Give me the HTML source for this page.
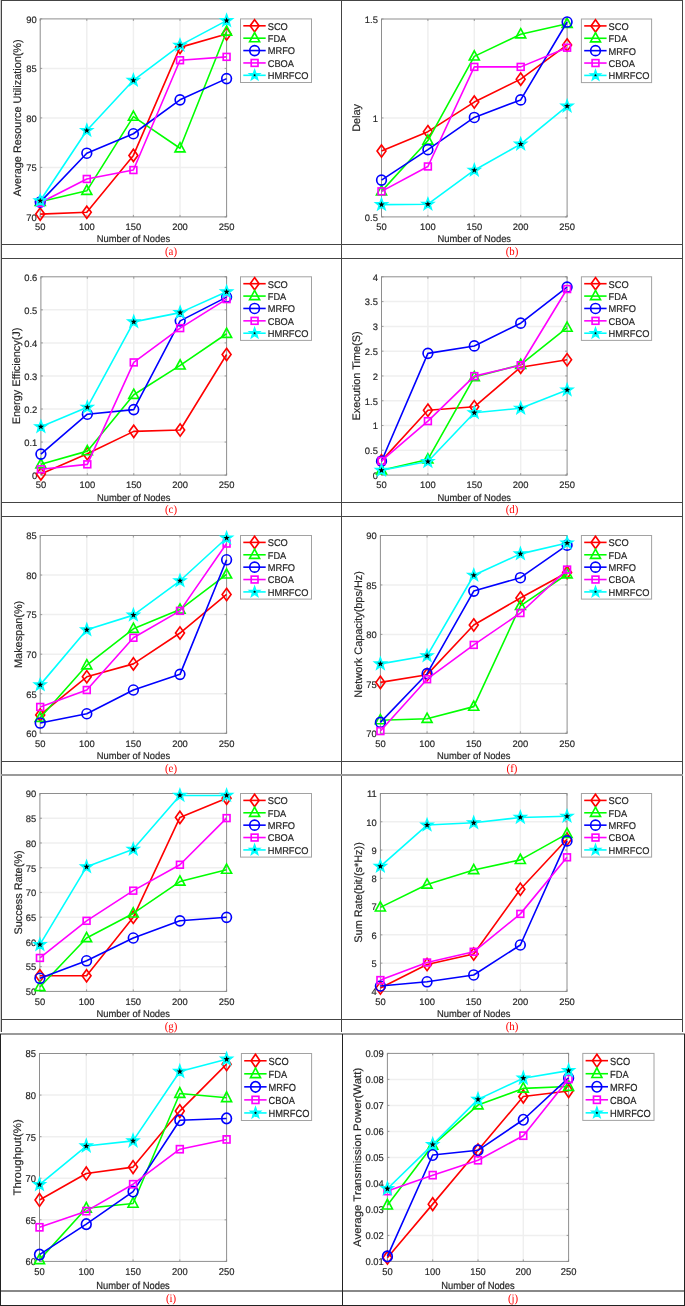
<!DOCTYPE html>
<html><head><meta charset="utf-8"><title>Figure</title>
<style>
html,body{margin:0;padding:0;background:#fff;}
body{width:685px;height:1306px;overflow:hidden;font-family:"Liberation Sans", sans-serif;}
svg{display:block;will-change:transform;}
svg text{font-family:"Liberation Sans", sans-serif;fill:#262626;stroke:#262626;stroke-width:0.18px;stroke-linejoin:round;text-rendering:geometricPrecision;}
</style></head><body>
<svg width="685" height="1306" viewBox="0 0 685 1306">
<rect x="0" y="0" width="1" height="1032" fill="#cfcfcf"/>
<rect x="1" y="0" width="682" height="1" fill="#444444"/>
<rect x="1" y="0" width="1" height="1032" fill="#444444"/>
<rect x="682" y="0" width="1" height="1032" fill="#444444"/>
<rect x="341" y="0" width="1" height="1032" fill="#444444"/>
<rect x="1" y="244" width="682" height="1" fill="#444444"/>
<rect x="1" y="258" width="682" height="1" fill="#444444"/>
<rect x="1" y="502" width="682" height="1" fill="#444444"/>
<rect x="1" y="516" width="682" height="1" fill="#444444"/>
<rect x="1" y="761" width="682" height="1" fill="#444444"/>
<rect x="1" y="1019" width="682" height="1" fill="#444444"/>
<rect x="1" y="774" width="682" height="2" fill="#9a9a9a"/>
<rect x="0" y="1033" width="685" height="2" fill="#9a9a9a"/>
<rect x="0" y="1290" width="685" height="2" fill="#888"/>
<rect x="0" y="1305" width="685" height="1" fill="#222"/>
<rect x="0" y="1034" width="1" height="272" fill="#222"/>
<rect x="684" y="1034" width="1" height="272" fill="#222"/>
<rect x="342" y="1034" width="1" height="272" fill="#222"/>
<g><line x1="86.8" y1="18.9" x2="86.8" y2="216.9" stroke="#efefef" stroke-width="1.5"/>
<line x1="133.4" y1="18.9" x2="133.4" y2="216.9" stroke="#efefef" stroke-width="1.5"/>
<line x1="180" y1="18.9" x2="180" y2="216.9" stroke="#efefef" stroke-width="1.5"/>
<line x1="40.2" y1="167.4" x2="226.6" y2="167.4" stroke="#efefef" stroke-width="1.5"/>
<line x1="40.2" y1="117.9" x2="226.6" y2="117.9" stroke="#efefef" stroke-width="1.5"/>
<line x1="40.2" y1="68.4" x2="226.6" y2="68.4" stroke="#efefef" stroke-width="1.5"/>
<rect x="40.2" y="18.9" width="186.4" height="198" fill="none" stroke="#8e8e8e" stroke-width="1"/>
<line x1="40.2" y1="216.9" x2="40.2" y2="214.9" stroke="#888" stroke-width="0.8"/>
<line x1="40.2" y1="18.9" x2="40.2" y2="20.9" stroke="#888" stroke-width="0.8"/>
<line x1="86.8" y1="216.9" x2="86.8" y2="214.9" stroke="#888" stroke-width="0.8"/>
<line x1="86.8" y1="18.9" x2="86.8" y2="20.9" stroke="#888" stroke-width="0.8"/>
<line x1="133.4" y1="216.9" x2="133.4" y2="214.9" stroke="#888" stroke-width="0.8"/>
<line x1="133.4" y1="18.9" x2="133.4" y2="20.9" stroke="#888" stroke-width="0.8"/>
<line x1="180" y1="216.9" x2="180" y2="214.9" stroke="#888" stroke-width="0.8"/>
<line x1="180" y1="18.9" x2="180" y2="20.9" stroke="#888" stroke-width="0.8"/>
<line x1="226.6" y1="216.9" x2="226.6" y2="214.9" stroke="#888" stroke-width="0.8"/>
<line x1="226.6" y1="18.9" x2="226.6" y2="20.9" stroke="#888" stroke-width="0.8"/>
<line x1="40.2" y1="216.9" x2="42.2" y2="216.9" stroke="#888" stroke-width="0.8"/>
<line x1="226.6" y1="216.9" x2="224.6" y2="216.9" stroke="#888" stroke-width="0.8"/>
<line x1="40.2" y1="167.4" x2="42.2" y2="167.4" stroke="#888" stroke-width="0.8"/>
<line x1="226.6" y1="167.4" x2="224.6" y2="167.4" stroke="#888" stroke-width="0.8"/>
<line x1="40.2" y1="117.9" x2="42.2" y2="117.9" stroke="#888" stroke-width="0.8"/>
<line x1="226.6" y1="117.9" x2="224.6" y2="117.9" stroke="#888" stroke-width="0.8"/>
<line x1="40.2" y1="68.4" x2="42.2" y2="68.4" stroke="#888" stroke-width="0.8"/>
<line x1="226.6" y1="68.4" x2="224.6" y2="68.4" stroke="#888" stroke-width="0.8"/>
<line x1="40.2" y1="18.9" x2="42.2" y2="18.9" stroke="#888" stroke-width="0.8"/>
<line x1="226.6" y1="18.9" x2="224.6" y2="18.9" stroke="#888" stroke-width="0.8"/>
<text transform="translate(36.6 220.7) scale(1 1)" text-anchor="end" font-size="9.4">70</text>
<text transform="translate(36.6 171.2) scale(1 1)" text-anchor="end" font-size="9.4">75</text>
<text transform="translate(36.6 121.7) scale(1 1)" text-anchor="end" font-size="9.4">80</text>
<text transform="translate(36.6 72.2) scale(1 1)" text-anchor="end" font-size="9.4">85</text>
<text transform="translate(36.6 22.7) scale(1 1)" text-anchor="end" font-size="9.4">90</text>
<text transform="translate(40.2 230.2) scale(1 1)" text-anchor="middle" font-size="9.4">50</text>
<text transform="translate(86.8 230.2) scale(1 1)" text-anchor="middle" font-size="9.4">100</text>
<text transform="translate(133.4 230.2) scale(1 1)" text-anchor="middle" font-size="9.4">150</text>
<text transform="translate(180 230.2) scale(1 1)" text-anchor="middle" font-size="9.4">200</text>
<text transform="translate(226.6 230.2) scale(1 1)" text-anchor="middle" font-size="9.4">250</text>
<text transform="translate(133.4 242.3) scale(1 1.05)" text-anchor="middle" font-size="9.4">Number of Nodes</text>
<text transform="translate(21.4 117.9) scale(1 1) rotate(-90)" text-anchor="middle" font-size="10.9">Average Resource Utilization(%)</text>
<polyline points="40.2,214.09 86.8,212.31 133.4,155.41 180,47.36 226.6,34" fill="none" stroke="#ff0000" stroke-width="1.6" stroke-linejoin="round"/>
<path d="M40.2 207.94L44.65 214.09L40.2 220.24L35.75 214.09Z" fill="none" stroke="#ff0000" stroke-width="1.65"/>
<path d="M86.8 206.16L91.25 212.31L86.8 218.46L82.35 212.31Z" fill="none" stroke="#ff0000" stroke-width="1.65"/>
<path d="M133.4 149.26L137.85 155.41L133.4 161.56L128.95 155.41Z" fill="none" stroke="#ff0000" stroke-width="1.65"/>
<path d="M180 41.21L184.45 47.36L180 53.51L175.55 47.36Z" fill="none" stroke="#ff0000" stroke-width="1.65"/>
<path d="M226.6 27.85L231.05 34L226.6 40.15L222.15 34Z" fill="none" stroke="#ff0000" stroke-width="1.65"/>
<polyline points="40.2,201.72 86.8,190.83 133.4,116.62 180,148.28 226.6,31.52" fill="none" stroke="#00ff00" stroke-width="1.6" stroke-linejoin="round"/>
<path d="M40.2 196.12L45.2 205.32L35.2 205.32Z" fill="none" stroke="#00ff00" stroke-width="1.65" stroke-linejoin="miter"/>
<path d="M86.8 185.23L91.8 194.43L81.8 194.43Z" fill="none" stroke="#00ff00" stroke-width="1.65" stroke-linejoin="miter"/>
<path d="M133.4 111.02L138.4 120.22L128.4 120.22Z" fill="none" stroke="#00ff00" stroke-width="1.65" stroke-linejoin="miter"/>
<path d="M180 142.69L185 151.88L175 151.88Z" fill="none" stroke="#00ff00" stroke-width="1.65" stroke-linejoin="miter"/>
<path d="M226.6 25.92L231.6 35.12L221.6 35.12Z" fill="none" stroke="#00ff00" stroke-width="1.65" stroke-linejoin="miter"/>
<polyline points="40.2,202.11 86.8,153.23 133.4,133.74 180,99.8 226.6,78.62" fill="none" stroke="#0000ff" stroke-width="1.6" stroke-linejoin="round"/>
<ellipse cx="40.2" cy="202.11" rx="4.85" ry="5" fill="none" stroke="#0000ff" stroke-width="1.65"/>
<ellipse cx="86.8" cy="153.23" rx="4.85" ry="5" fill="none" stroke="#0000ff" stroke-width="1.65"/>
<ellipse cx="133.4" cy="133.74" rx="4.85" ry="5" fill="none" stroke="#0000ff" stroke-width="1.65"/>
<ellipse cx="180" cy="99.8" rx="4.85" ry="5" fill="none" stroke="#0000ff" stroke-width="1.65"/>
<ellipse cx="226.6" cy="78.62" rx="4.85" ry="5" fill="none" stroke="#0000ff" stroke-width="1.65"/>
<polyline points="40.2,202.71 86.8,178.96 133.4,170.05 180,60.22 226.6,56.86" fill="none" stroke="#ff00ff" stroke-width="1.6" stroke-linejoin="round"/>
<rect x="36.8" y="199.31" width="6.8" height="6.8" fill="none" stroke="#ff00ff" stroke-width="1.65"/>
<rect x="83.4" y="175.56" width="6.8" height="6.8" fill="none" stroke="#ff00ff" stroke-width="1.65"/>
<rect x="130" y="166.65" width="6.8" height="6.8" fill="none" stroke="#ff00ff" stroke-width="1.65"/>
<rect x="176.6" y="56.82" width="6.8" height="6.8" fill="none" stroke="#ff00ff" stroke-width="1.65"/>
<rect x="223.2" y="53.46" width="6.8" height="6.8" fill="none" stroke="#ff00ff" stroke-width="1.65"/>
<polyline points="40.2,200.73 86.8,130.47 133.4,80.31 180,45.38 226.6,20.64" fill="none" stroke="#00ffff" stroke-width="1.6" stroke-linejoin="round"/>
<path d="M40.2 194.33L41.73 198.63L46.29 198.75L42.67 201.53L43.96 205.91L40.2 203.33L36.44 205.91L37.73 201.53L34.11 198.75L38.67 198.63Z" fill="#00ffff" stroke="#00ffff" stroke-width="1.3" stroke-linejoin="miter"/><path d="M40.2 197.43L40.99 199.64L43.34 199.71L41.48 201.15L42.14 203.4L40.2 202.08L38.26 203.4L38.92 201.15L37.06 199.71L39.41 199.64Z" fill="#000"/>
<path d="M86.8 124.07L88.33 128.37L92.89 128.5L89.27 131.28L90.56 135.65L86.8 133.07L83.04 135.65L84.33 131.28L80.71 128.5L85.27 128.37Z" fill="#00ffff" stroke="#00ffff" stroke-width="1.3" stroke-linejoin="miter"/><path d="M86.8 127.17L87.59 129.38L89.94 129.45L88.08 130.89L88.74 133.14L86.8 131.82L84.86 133.14L85.52 130.89L83.66 129.45L86.01 129.38Z" fill="#000"/>
<path d="M133.4 73.91L134.93 78.2L139.49 78.33L135.87 81.11L137.16 85.48L133.4 82.91L129.64 85.48L130.93 81.11L127.31 78.33L131.87 78.2Z" fill="#00ffff" stroke="#00ffff" stroke-width="1.3" stroke-linejoin="miter"/><path d="M133.4 77.01L134.19 79.21L136.54 79.29L134.68 80.72L135.34 82.98L133.4 81.66L131.46 82.98L132.12 80.72L130.26 79.29L132.61 79.21Z" fill="#000"/>
<path d="M180 38.98L181.53 43.27L186.09 43.4L182.47 46.18L183.76 50.55L180 47.98L176.24 50.55L177.53 46.18L173.91 43.4L178.47 43.27Z" fill="#00ffff" stroke="#00ffff" stroke-width="1.3" stroke-linejoin="miter"/><path d="M180 42.08L180.79 44.28L183.14 44.36L181.28 45.79L181.94 48.05L180 46.73L178.06 48.05L178.72 45.79L176.86 44.36L179.21 44.28Z" fill="#000"/>
<path d="M226.6 14.24L228.13 18.54L232.69 18.66L229.07 21.44L230.36 25.82L226.6 23.24L222.84 25.82L224.13 21.44L220.51 18.66L225.07 18.54Z" fill="#00ffff" stroke="#00ffff" stroke-width="1.3" stroke-linejoin="miter"/><path d="M226.6 17.34L227.39 19.55L229.74 19.62L227.88 21.06L228.54 23.31L226.6 21.99L224.66 23.31L225.32 21.06L223.46 19.62L225.81 19.55Z" fill="#000"/>
<rect x="240.5" y="18.9" width="71" height="63.6" fill="#fff" stroke="#a2a2a2" stroke-width="1"/>
<line x1="243.3" y1="25.8" x2="265.7" y2="25.8" stroke="#ff0000" stroke-width="1.6"/>
<path d="M254.6 19.65L259.05 25.8L254.6 31.95L250.15 25.8Z" fill="none" stroke="#ff0000" stroke-width="1.65"/>
<text transform="translate(267.7 29.65) scale(1 1.05)" font-size="9.3">SCO</text>
<line x1="243.3" y1="38.18" x2="265.7" y2="38.18" stroke="#00ff00" stroke-width="1.6"/>
<path d="M254.6 32.58L259.6 41.78L249.6 41.78Z" fill="none" stroke="#00ff00" stroke-width="1.65" stroke-linejoin="miter"/>
<text transform="translate(267.7 42.03) scale(1 1.05)" font-size="9.3">FDA</text>
<line x1="243.3" y1="50.56" x2="265.7" y2="50.56" stroke="#0000ff" stroke-width="1.6"/>
<ellipse cx="254.6" cy="50.56" rx="4.85" ry="5" fill="none" stroke="#0000ff" stroke-width="1.65"/>
<text transform="translate(267.7 54.41) scale(1 1.05)" font-size="9.3">MRFO</text>
<line x1="243.3" y1="62.94" x2="265.7" y2="62.94" stroke="#ff00ff" stroke-width="1.6"/>
<rect x="251.2" y="59.54" width="6.8" height="6.8" fill="none" stroke="#ff00ff" stroke-width="1.65"/>
<text transform="translate(267.7 66.79) scale(1 1.05)" font-size="9.3">CBOA</text>
<line x1="243.3" y1="75.32" x2="265.7" y2="75.32" stroke="#00ffff" stroke-width="1.6"/>
<path d="M254.6 69.82L255.92 73.5L259.83 73.62L256.74 76.02L257.83 79.77L254.6 77.57L251.37 79.77L252.46 76.02L249.37 73.62L253.28 73.5Z" fill="#00ffff" stroke="#00ffff" stroke-width="1.3" stroke-linejoin="miter"/><path d="M254.6 73.72L255.01 74.75L256.12 74.83L255.27 75.54L255.54 76.61L254.6 76.02L253.66 76.61L253.93 75.54L253.08 74.83L254.19 74.75Z" fill="#000"/>
<text transform="translate(267.7 79.17) scale(1 1.05)" font-size="9.3">HMRFCO</text></g>
<g><line x1="427.9" y1="19" x2="427.9" y2="216.9" stroke="#efefef" stroke-width="1.5"/>
<line x1="474.3" y1="19" x2="474.3" y2="216.9" stroke="#efefef" stroke-width="1.5"/>
<line x1="520.7" y1="19" x2="520.7" y2="216.9" stroke="#efefef" stroke-width="1.5"/>
<line x1="381.5" y1="117.95" x2="567.1" y2="117.95" stroke="#efefef" stroke-width="1.5"/>
<rect x="381.5" y="19" width="185.6" height="197.9" fill="none" stroke="#8e8e8e" stroke-width="1"/>
<line x1="381.5" y1="216.9" x2="381.5" y2="214.9" stroke="#888" stroke-width="0.8"/>
<line x1="381.5" y1="19" x2="381.5" y2="21" stroke="#888" stroke-width="0.8"/>
<line x1="427.9" y1="216.9" x2="427.9" y2="214.9" stroke="#888" stroke-width="0.8"/>
<line x1="427.9" y1="19" x2="427.9" y2="21" stroke="#888" stroke-width="0.8"/>
<line x1="474.3" y1="216.9" x2="474.3" y2="214.9" stroke="#888" stroke-width="0.8"/>
<line x1="474.3" y1="19" x2="474.3" y2="21" stroke="#888" stroke-width="0.8"/>
<line x1="520.7" y1="216.9" x2="520.7" y2="214.9" stroke="#888" stroke-width="0.8"/>
<line x1="520.7" y1="19" x2="520.7" y2="21" stroke="#888" stroke-width="0.8"/>
<line x1="567.1" y1="216.9" x2="567.1" y2="214.9" stroke="#888" stroke-width="0.8"/>
<line x1="567.1" y1="19" x2="567.1" y2="21" stroke="#888" stroke-width="0.8"/>
<line x1="381.5" y1="216.9" x2="383.5" y2="216.9" stroke="#888" stroke-width="0.8"/>
<line x1="567.1" y1="216.9" x2="565.1" y2="216.9" stroke="#888" stroke-width="0.8"/>
<line x1="381.5" y1="117.95" x2="383.5" y2="117.95" stroke="#888" stroke-width="0.8"/>
<line x1="567.1" y1="117.95" x2="565.1" y2="117.95" stroke="#888" stroke-width="0.8"/>
<line x1="381.5" y1="19" x2="383.5" y2="19" stroke="#888" stroke-width="0.8"/>
<line x1="567.1" y1="19" x2="565.1" y2="19" stroke="#888" stroke-width="0.8"/>
<text transform="translate(377.9 220.7) scale(1 1)" text-anchor="end" font-size="9.4">0.5</text>
<text transform="translate(377.9 121.75) scale(1 1)" text-anchor="end" font-size="9.4">1</text>
<text transform="translate(377.9 22.8) scale(1 1)" text-anchor="end" font-size="9.4">1.5</text>
<text transform="translate(381.5 230.2) scale(1 1)" text-anchor="middle" font-size="9.4">50</text>
<text transform="translate(427.9 230.2) scale(1 1)" text-anchor="middle" font-size="9.4">100</text>
<text transform="translate(474.3 230.2) scale(1 1)" text-anchor="middle" font-size="9.4">150</text>
<text transform="translate(520.7 230.2) scale(1 1)" text-anchor="middle" font-size="9.4">200</text>
<text transform="translate(567.1 230.2) scale(1 1)" text-anchor="middle" font-size="9.4">250</text>
<text transform="translate(474.3 242.3) scale(1 1.05)" text-anchor="middle" font-size="9.4">Number of Nodes</text>
<text transform="translate(360.4 117.95) scale(1 1) rotate(-90)" text-anchor="middle" font-size="10.9">Delay</text>
<polyline points="381.5,151.05 427.9,131.69 474.3,102.05 520.7,79.13 567.1,44.94" fill="none" stroke="#ff0000" stroke-width="1.6" stroke-linejoin="round"/>
<path d="M381.5 144.9L385.95 151.05L381.5 157.2L377.05 151.05Z" fill="none" stroke="#ff0000" stroke-width="1.65"/>
<path d="M427.9 125.54L432.35 131.69L427.9 137.84L423.45 131.69Z" fill="none" stroke="#ff0000" stroke-width="1.65"/>
<path d="M474.3 95.9L478.75 102.05L474.3 108.2L469.85 102.05Z" fill="none" stroke="#ff0000" stroke-width="1.65"/>
<path d="M520.7 72.98L525.15 79.13L520.7 85.28L516.25 79.13Z" fill="none" stroke="#ff0000" stroke-width="1.65"/>
<path d="M567.1 38.79L571.55 44.94L567.1 51.09L562.65 44.94Z" fill="none" stroke="#ff0000" stroke-width="1.65"/>
<polyline points="381.5,191.36 427.9,140.58 474.3,56.4 520.7,34.27 567.1,23.8" fill="none" stroke="#00ff00" stroke-width="1.6" stroke-linejoin="round"/>
<path d="M381.5 185.76L386.5 194.96L376.5 194.96Z" fill="none" stroke="#00ff00" stroke-width="1.65" stroke-linejoin="miter"/>
<path d="M427.9 134.98L432.9 144.18L422.9 144.18Z" fill="none" stroke="#00ff00" stroke-width="1.65" stroke-linejoin="miter"/>
<path d="M474.3 50.8L479.3 60L469.3 60Z" fill="none" stroke="#00ff00" stroke-width="1.65" stroke-linejoin="miter"/>
<path d="M520.7 28.67L525.7 37.87L515.7 37.87Z" fill="none" stroke="#00ff00" stroke-width="1.65" stroke-linejoin="miter"/>
<path d="M567.1 18.2L572.1 27.4L562.1 27.4Z" fill="none" stroke="#00ff00" stroke-width="1.65" stroke-linejoin="miter"/>
<polyline points="381.5,180.1 427.9,149.67 474.3,117.46 520.7,99.88 567.1,22.02" fill="none" stroke="#0000ff" stroke-width="1.6" stroke-linejoin="round"/>
<ellipse cx="381.5" cy="180.1" rx="4.85" ry="5" fill="none" stroke="#0000ff" stroke-width="1.65"/>
<ellipse cx="427.9" cy="149.67" rx="4.85" ry="5" fill="none" stroke="#0000ff" stroke-width="1.65"/>
<ellipse cx="474.3" cy="117.46" rx="4.85" ry="5" fill="none" stroke="#0000ff" stroke-width="1.65"/>
<ellipse cx="520.7" cy="99.88" rx="4.85" ry="5" fill="none" stroke="#0000ff" stroke-width="1.65"/>
<ellipse cx="567.1" cy="22.02" rx="4.85" ry="5" fill="none" stroke="#0000ff" stroke-width="1.65"/>
<polyline points="381.5,191.36 427.9,166.47 474.3,66.88 520.7,66.88 567.1,47.71" fill="none" stroke="#ff00ff" stroke-width="1.6" stroke-linejoin="round"/>
<rect x="378.1" y="187.96" width="6.8" height="6.8" fill="none" stroke="#ff00ff" stroke-width="1.65"/>
<rect x="424.5" y="163.07" width="6.8" height="6.8" fill="none" stroke="#ff00ff" stroke-width="1.65"/>
<rect x="470.9" y="63.48" width="6.8" height="6.8" fill="none" stroke="#ff00ff" stroke-width="1.65"/>
<rect x="517.3" y="63.48" width="6.8" height="6.8" fill="none" stroke="#ff00ff" stroke-width="1.65"/>
<rect x="563.7" y="44.31" width="6.8" height="6.8" fill="none" stroke="#ff00ff" stroke-width="1.65"/>
<polyline points="381.5,204.6 427.9,204.21 474.3,170.22 520.7,144.14 567.1,106.2" fill="none" stroke="#00ffff" stroke-width="1.6" stroke-linejoin="round"/>
<path d="M381.5 198.2L383.03 202.5L387.59 202.63L383.97 205.41L385.26 209.78L381.5 207.2L377.74 209.78L379.03 205.41L375.41 202.63L379.97 202.5Z" fill="#00ffff" stroke="#00ffff" stroke-width="1.3" stroke-linejoin="miter"/><path d="M381.5 201.3L382.29 203.51L384.64 203.58L382.78 205.02L383.44 207.27L381.5 205.95L379.56 207.27L380.22 205.02L378.36 203.58L380.71 203.51Z" fill="#000"/>
<path d="M427.9 197.81L429.43 202.1L433.99 202.23L430.37 205.01L431.66 209.39L427.9 206.81L424.14 209.39L425.43 205.01L421.81 202.23L426.37 202.1Z" fill="#00ffff" stroke="#00ffff" stroke-width="1.3" stroke-linejoin="miter"/><path d="M427.9 200.91L428.69 203.12L431.04 203.19L429.18 204.63L429.84 206.88L427.9 205.56L425.96 206.88L426.62 204.63L424.76 203.19L427.11 203.12Z" fill="#000"/>
<path d="M474.3 163.82L475.83 168.12L480.39 168.24L476.77 171.02L478.06 175.4L474.3 172.82L470.54 175.4L471.83 171.02L468.21 168.24L472.77 168.12Z" fill="#00ffff" stroke="#00ffff" stroke-width="1.3" stroke-linejoin="miter"/><path d="M474.3 166.92L475.09 169.13L477.44 169.2L475.58 170.64L476.24 172.89L474.3 171.57L472.36 172.89L473.02 170.64L471.16 169.2L473.51 169.13Z" fill="#000"/>
<path d="M520.7 137.74L522.23 142.03L526.79 142.16L523.17 144.94L524.46 149.32L520.7 146.74L516.94 149.32L518.23 144.94L514.61 142.16L519.17 142.03Z" fill="#00ffff" stroke="#00ffff" stroke-width="1.3" stroke-linejoin="miter"/><path d="M520.7 140.84L521.49 143.05L523.84 143.12L521.98 144.56L522.64 146.81L520.7 145.49L518.76 146.81L519.42 144.56L517.56 143.12L519.91 143.05Z" fill="#000"/>
<path d="M567.1 99.8L568.63 104.1L573.19 104.22L569.57 107L570.86 111.38L567.1 108.8L563.34 111.38L564.63 107L561.01 104.22L565.57 104.1Z" fill="#00ffff" stroke="#00ffff" stroke-width="1.3" stroke-linejoin="miter"/><path d="M567.1 102.9L567.89 105.11L570.24 105.18L568.38 106.62L569.04 108.87L567.1 107.55L565.16 108.87L565.82 106.62L563.96 105.18L566.31 105.11Z" fill="#000"/>
<rect x="581.4" y="19" width="70.2" height="63.6" fill="#fff" stroke="#a2a2a2" stroke-width="1"/>
<line x1="584.2" y1="25.9" x2="606.6" y2="25.9" stroke="#ff0000" stroke-width="1.6"/>
<path d="M595.5 19.75L599.95 25.9L595.5 32.05L591.05 25.9Z" fill="none" stroke="#ff0000" stroke-width="1.65"/>
<text transform="translate(608.6 29.75) scale(1 1.05)" font-size="9.3">SCO</text>
<line x1="584.2" y1="38.28" x2="606.6" y2="38.28" stroke="#00ff00" stroke-width="1.6"/>
<path d="M595.5 32.68L600.5 41.88L590.5 41.88Z" fill="none" stroke="#00ff00" stroke-width="1.65" stroke-linejoin="miter"/>
<text transform="translate(608.6 42.13) scale(1 1.05)" font-size="9.3">FDA</text>
<line x1="584.2" y1="50.66" x2="606.6" y2="50.66" stroke="#0000ff" stroke-width="1.6"/>
<ellipse cx="595.5" cy="50.66" rx="4.85" ry="5" fill="none" stroke="#0000ff" stroke-width="1.65"/>
<text transform="translate(608.6 54.51) scale(1 1.05)" font-size="9.3">MRFO</text>
<line x1="584.2" y1="63.04" x2="606.6" y2="63.04" stroke="#ff00ff" stroke-width="1.6"/>
<rect x="592.1" y="59.64" width="6.8" height="6.8" fill="none" stroke="#ff00ff" stroke-width="1.65"/>
<text transform="translate(608.6 66.89) scale(1 1.05)" font-size="9.3">CBOA</text>
<line x1="584.2" y1="75.42" x2="606.6" y2="75.42" stroke="#00ffff" stroke-width="1.6"/>
<path d="M595.5 69.92L596.82 73.6L600.73 73.72L597.64 76.12L598.73 79.87L595.5 77.67L592.27 79.87L593.36 76.12L590.27 73.72L594.18 73.6Z" fill="#00ffff" stroke="#00ffff" stroke-width="1.3" stroke-linejoin="miter"/><path d="M595.5 73.82L595.91 74.85L597.02 74.93L596.17 75.64L596.44 76.71L595.5 76.12L594.56 76.71L594.83 75.64L593.98 74.93L595.09 74.85Z" fill="#000"/>
<text transform="translate(608.6 79.27) scale(1 1.05)" font-size="9.3">HMRFCO</text></g>
<g><line x1="87.32" y1="276.8" x2="87.32" y2="475.1" stroke="#efefef" stroke-width="1.5"/>
<line x1="133.75" y1="276.8" x2="133.75" y2="475.1" stroke="#efefef" stroke-width="1.5"/>
<line x1="180.17" y1="276.8" x2="180.17" y2="475.1" stroke="#efefef" stroke-width="1.5"/>
<line x1="40.9" y1="442.05" x2="226.6" y2="442.05" stroke="#efefef" stroke-width="1.5"/>
<line x1="40.9" y1="409" x2="226.6" y2="409" stroke="#efefef" stroke-width="1.5"/>
<line x1="40.9" y1="375.95" x2="226.6" y2="375.95" stroke="#efefef" stroke-width="1.5"/>
<line x1="40.9" y1="342.9" x2="226.6" y2="342.9" stroke="#efefef" stroke-width="1.5"/>
<line x1="40.9" y1="309.85" x2="226.6" y2="309.85" stroke="#efefef" stroke-width="1.5"/>
<rect x="40.9" y="276.8" width="185.7" height="198.3" fill="none" stroke="#8e8e8e" stroke-width="1"/>
<line x1="40.9" y1="475.1" x2="40.9" y2="473.1" stroke="#888" stroke-width="0.8"/>
<line x1="40.9" y1="276.8" x2="40.9" y2="278.8" stroke="#888" stroke-width="0.8"/>
<line x1="87.32" y1="475.1" x2="87.32" y2="473.1" stroke="#888" stroke-width="0.8"/>
<line x1="87.32" y1="276.8" x2="87.32" y2="278.8" stroke="#888" stroke-width="0.8"/>
<line x1="133.75" y1="475.1" x2="133.75" y2="473.1" stroke="#888" stroke-width="0.8"/>
<line x1="133.75" y1="276.8" x2="133.75" y2="278.8" stroke="#888" stroke-width="0.8"/>
<line x1="180.17" y1="475.1" x2="180.17" y2="473.1" stroke="#888" stroke-width="0.8"/>
<line x1="180.17" y1="276.8" x2="180.17" y2="278.8" stroke="#888" stroke-width="0.8"/>
<line x1="226.6" y1="475.1" x2="226.6" y2="473.1" stroke="#888" stroke-width="0.8"/>
<line x1="226.6" y1="276.8" x2="226.6" y2="278.8" stroke="#888" stroke-width="0.8"/>
<line x1="40.9" y1="475.1" x2="42.9" y2="475.1" stroke="#888" stroke-width="0.8"/>
<line x1="226.6" y1="475.1" x2="224.6" y2="475.1" stroke="#888" stroke-width="0.8"/>
<line x1="40.9" y1="442.05" x2="42.9" y2="442.05" stroke="#888" stroke-width="0.8"/>
<line x1="226.6" y1="442.05" x2="224.6" y2="442.05" stroke="#888" stroke-width="0.8"/>
<line x1="40.9" y1="409" x2="42.9" y2="409" stroke="#888" stroke-width="0.8"/>
<line x1="226.6" y1="409" x2="224.6" y2="409" stroke="#888" stroke-width="0.8"/>
<line x1="40.9" y1="375.95" x2="42.9" y2="375.95" stroke="#888" stroke-width="0.8"/>
<line x1="226.6" y1="375.95" x2="224.6" y2="375.95" stroke="#888" stroke-width="0.8"/>
<line x1="40.9" y1="342.9" x2="42.9" y2="342.9" stroke="#888" stroke-width="0.8"/>
<line x1="226.6" y1="342.9" x2="224.6" y2="342.9" stroke="#888" stroke-width="0.8"/>
<line x1="40.9" y1="309.85" x2="42.9" y2="309.85" stroke="#888" stroke-width="0.8"/>
<line x1="226.6" y1="309.85" x2="224.6" y2="309.85" stroke="#888" stroke-width="0.8"/>
<line x1="40.9" y1="276.8" x2="42.9" y2="276.8" stroke="#888" stroke-width="0.8"/>
<line x1="226.6" y1="276.8" x2="224.6" y2="276.8" stroke="#888" stroke-width="0.8"/>
<text transform="translate(37.3 478.9) scale(1 1)" text-anchor="end" font-size="9.4">0</text>
<text transform="translate(37.3 445.85) scale(1 1)" text-anchor="end" font-size="9.4">0.1</text>
<text transform="translate(37.3 412.8) scale(1 1)" text-anchor="end" font-size="9.4">0.2</text>
<text transform="translate(37.3 379.75) scale(1 1)" text-anchor="end" font-size="9.4">0.3</text>
<text transform="translate(37.3 346.7) scale(1 1)" text-anchor="end" font-size="9.4">0.4</text>
<text transform="translate(37.3 313.65) scale(1 1)" text-anchor="end" font-size="9.4">0.5</text>
<text transform="translate(37.3 280.6) scale(1 1)" text-anchor="end" font-size="9.4">0.6</text>
<text transform="translate(40.9 488.4) scale(1 1)" text-anchor="middle" font-size="9.4">50</text>
<text transform="translate(87.32 488.4) scale(1 1)" text-anchor="middle" font-size="9.4">100</text>
<text transform="translate(133.75 488.4) scale(1 1)" text-anchor="middle" font-size="9.4">150</text>
<text transform="translate(180.17 488.4) scale(1 1)" text-anchor="middle" font-size="9.4">200</text>
<text transform="translate(226.6 488.4) scale(1 1)" text-anchor="middle" font-size="9.4">250</text>
<text transform="translate(133.75 500.5) scale(1 1.05)" text-anchor="middle" font-size="9.4">Number of Nodes</text>
<text transform="translate(19.9 375.95) scale(1 1) rotate(-90)" text-anchor="middle" font-size="10.9">Energy Efficiency(J)</text>
<polyline points="40.9,473.9 87.32,453.78 133.75,431.35 180.17,430.03 226.6,354.5" fill="none" stroke="#ff0000" stroke-width="1.6" stroke-linejoin="round"/>
<path d="M40.9 467.75L45.35 473.9L40.9 480.05L36.45 473.9Z" fill="none" stroke="#ff0000" stroke-width="1.65"/>
<path d="M87.32 447.63L91.77 453.78L87.32 459.93L82.87 453.78Z" fill="none" stroke="#ff0000" stroke-width="1.65"/>
<path d="M133.75 425.2L138.2 431.35L133.75 437.5L129.3 431.35Z" fill="none" stroke="#ff0000" stroke-width="1.65"/>
<path d="M180.17 423.88L184.62 430.03L180.17 436.18L175.72 430.03Z" fill="none" stroke="#ff0000" stroke-width="1.65"/>
<path d="M226.6 348.35L231.05 354.5L226.6 360.65L222.15 354.5Z" fill="none" stroke="#ff0000" stroke-width="1.65"/>
<polyline points="40.9,464.34 87.32,451.14 133.75,394.74 180.17,365.39 226.6,333.72" fill="none" stroke="#00ff00" stroke-width="1.6" stroke-linejoin="round"/>
<path d="M40.9 458.74L45.9 467.94L35.9 467.94Z" fill="none" stroke="#00ff00" stroke-width="1.65" stroke-linejoin="miter"/>
<path d="M87.32 445.54L92.32 454.74L82.32 454.74Z" fill="none" stroke="#00ff00" stroke-width="1.65" stroke-linejoin="miter"/>
<path d="M133.75 389.14L138.75 398.34L128.75 398.34Z" fill="none" stroke="#00ff00" stroke-width="1.65" stroke-linejoin="miter"/>
<path d="M180.17 359.79L185.17 368.99L175.17 368.99Z" fill="none" stroke="#00ff00" stroke-width="1.65" stroke-linejoin="miter"/>
<path d="M226.6 328.12L231.6 337.32L221.6 337.32Z" fill="none" stroke="#00ff00" stroke-width="1.65" stroke-linejoin="miter"/>
<polyline points="40.9,454.11 87.32,414.2 133.75,409.58 180.17,320.86 226.6,297.11" fill="none" stroke="#0000ff" stroke-width="1.6" stroke-linejoin="round"/>
<ellipse cx="40.9" cy="454.11" rx="4.85" ry="5" fill="none" stroke="#0000ff" stroke-width="1.65"/>
<ellipse cx="87.32" cy="414.2" rx="4.85" ry="5" fill="none" stroke="#0000ff" stroke-width="1.65"/>
<ellipse cx="133.75" cy="409.58" rx="4.85" ry="5" fill="none" stroke="#0000ff" stroke-width="1.65"/>
<ellipse cx="180.17" cy="320.86" rx="4.85" ry="5" fill="none" stroke="#0000ff" stroke-width="1.65"/>
<ellipse cx="226.6" cy="297.11" rx="4.85" ry="5" fill="none" stroke="#0000ff" stroke-width="1.65"/>
<polyline points="40.9,469.28 87.32,464.34 133.75,362.42 180.17,328.11 226.6,299.09" fill="none" stroke="#ff00ff" stroke-width="1.6" stroke-linejoin="round"/>
<rect x="37.5" y="465.88" width="6.8" height="6.8" fill="none" stroke="#ff00ff" stroke-width="1.65"/>
<rect x="83.92" y="460.94" width="6.8" height="6.8" fill="none" stroke="#ff00ff" stroke-width="1.65"/>
<rect x="130.35" y="359.02" width="6.8" height="6.8" fill="none" stroke="#ff00ff" stroke-width="1.65"/>
<rect x="176.77" y="324.71" width="6.8" height="6.8" fill="none" stroke="#ff00ff" stroke-width="1.65"/>
<rect x="223.2" y="295.69" width="6.8" height="6.8" fill="none" stroke="#ff00ff" stroke-width="1.65"/>
<polyline points="40.9,426.73 87.32,407.27 133.75,321.85 180.17,312.61 226.6,291.83" fill="none" stroke="#00ffff" stroke-width="1.6" stroke-linejoin="round"/>
<path d="M40.9 420.33L42.43 424.63L46.99 424.76L43.37 427.54L44.66 431.91L40.9 429.33L37.14 431.91L38.43 427.54L34.81 424.76L39.37 424.63Z" fill="#00ffff" stroke="#00ffff" stroke-width="1.3" stroke-linejoin="miter"/><path d="M40.9 423.43L41.69 425.64L44.04 425.71L42.18 427.15L42.84 429.4L40.9 428.08L38.96 429.4L39.62 427.15L37.76 425.71L40.11 425.64Z" fill="#000"/>
<path d="M87.32 400.87L88.85 405.17L93.41 405.3L89.8 408.08L91.09 412.45L87.32 409.87L83.56 412.45L84.85 408.08L81.24 405.3L85.8 405.17Z" fill="#00ffff" stroke="#00ffff" stroke-width="1.3" stroke-linejoin="miter"/><path d="M87.32 403.97L88.12 406.18L90.46 406.25L88.61 407.69L89.26 409.94L87.32 408.62L85.39 409.94L86.04 407.69L84.19 406.25L86.53 406.18Z" fill="#000"/>
<path d="M133.75 315.45L135.28 319.74L139.84 319.87L136.22 322.65L137.51 327.03L133.75 324.45L129.99 327.03L131.28 322.65L127.66 319.87L132.22 319.74Z" fill="#00ffff" stroke="#00ffff" stroke-width="1.3" stroke-linejoin="miter"/><path d="M133.75 318.55L134.54 320.76L136.89 320.83L135.03 322.26L135.69 324.52L133.75 323.2L131.81 324.52L132.47 322.26L130.61 320.83L132.96 320.76Z" fill="#000"/>
<path d="M180.17 306.21L181.7 310.51L186.26 310.63L182.65 313.42L183.94 317.79L180.17 315.21L176.41 317.79L177.7 313.42L174.09 310.63L178.65 310.51Z" fill="#00ffff" stroke="#00ffff" stroke-width="1.3" stroke-linejoin="miter"/><path d="M180.17 309.31L180.97 311.52L183.31 311.59L181.46 313.03L182.11 315.28L180.17 313.96L178.24 315.28L178.89 313.03L177.04 311.59L179.38 311.52Z" fill="#000"/>
<path d="M226.6 285.43L228.13 289.73L232.69 289.86L229.07 292.64L230.36 297.01L226.6 294.43L222.84 297.01L224.13 292.64L220.51 289.86L225.07 289.73Z" fill="#00ffff" stroke="#00ffff" stroke-width="1.3" stroke-linejoin="miter"/><path d="M226.6 288.53L227.39 290.74L229.74 290.81L227.88 292.25L228.54 294.5L226.6 293.18L224.66 294.5L225.32 292.25L223.46 290.81L225.81 290.74Z" fill="#000"/>
<rect x="240.5" y="276.8" width="71" height="63.6" fill="#fff" stroke="#a2a2a2" stroke-width="1"/>
<line x1="243.3" y1="283.7" x2="265.7" y2="283.7" stroke="#ff0000" stroke-width="1.6"/>
<path d="M254.6 277.55L259.05 283.7L254.6 289.85L250.15 283.7Z" fill="none" stroke="#ff0000" stroke-width="1.65"/>
<text transform="translate(267.7 287.55) scale(1 1.05)" font-size="9.3">SCO</text>
<line x1="243.3" y1="296.08" x2="265.7" y2="296.08" stroke="#00ff00" stroke-width="1.6"/>
<path d="M254.6 290.48L259.6 299.68L249.6 299.68Z" fill="none" stroke="#00ff00" stroke-width="1.65" stroke-linejoin="miter"/>
<text transform="translate(267.7 299.93) scale(1 1.05)" font-size="9.3">FDA</text>
<line x1="243.3" y1="308.46" x2="265.7" y2="308.46" stroke="#0000ff" stroke-width="1.6"/>
<ellipse cx="254.6" cy="308.46" rx="4.85" ry="5" fill="none" stroke="#0000ff" stroke-width="1.65"/>
<text transform="translate(267.7 312.31) scale(1 1.05)" font-size="9.3">MRFO</text>
<line x1="243.3" y1="320.84" x2="265.7" y2="320.84" stroke="#ff00ff" stroke-width="1.6"/>
<rect x="251.2" y="317.44" width="6.8" height="6.8" fill="none" stroke="#ff00ff" stroke-width="1.65"/>
<text transform="translate(267.7 324.69) scale(1 1.05)" font-size="9.3">CBOA</text>
<line x1="243.3" y1="333.22" x2="265.7" y2="333.22" stroke="#00ffff" stroke-width="1.6"/>
<path d="M254.6 327.72L255.92 331.4L259.83 331.52L256.74 333.92L257.83 337.67L254.6 335.47L251.37 337.67L252.46 333.92L249.37 331.52L253.28 331.4Z" fill="#00ffff" stroke="#00ffff" stroke-width="1.3" stroke-linejoin="miter"/><path d="M254.6 331.62L255.01 332.65L256.12 332.73L255.27 333.44L255.54 334.51L254.6 333.92L253.66 334.51L253.93 333.44L253.08 332.73L254.19 332.65Z" fill="#000"/>
<text transform="translate(267.7 337.07) scale(1 1.05)" font-size="9.3">HMRFCO</text></g>
<g><line x1="427.9" y1="276.8" x2="427.9" y2="475.1" stroke="#efefef" stroke-width="1.5"/>
<line x1="474.3" y1="276.8" x2="474.3" y2="475.1" stroke="#efefef" stroke-width="1.5"/>
<line x1="520.7" y1="276.8" x2="520.7" y2="475.1" stroke="#efefef" stroke-width="1.5"/>
<line x1="381.5" y1="450.31" x2="567.1" y2="450.31" stroke="#efefef" stroke-width="1.5"/>
<line x1="381.5" y1="425.53" x2="567.1" y2="425.53" stroke="#efefef" stroke-width="1.5"/>
<line x1="381.5" y1="400.74" x2="567.1" y2="400.74" stroke="#efefef" stroke-width="1.5"/>
<line x1="381.5" y1="375.95" x2="567.1" y2="375.95" stroke="#efefef" stroke-width="1.5"/>
<line x1="381.5" y1="351.16" x2="567.1" y2="351.16" stroke="#efefef" stroke-width="1.5"/>
<line x1="381.5" y1="326.38" x2="567.1" y2="326.38" stroke="#efefef" stroke-width="1.5"/>
<line x1="381.5" y1="301.59" x2="567.1" y2="301.59" stroke="#efefef" stroke-width="1.5"/>
<rect x="381.5" y="276.8" width="185.6" height="198.3" fill="none" stroke="#8e8e8e" stroke-width="1"/>
<line x1="381.5" y1="475.1" x2="381.5" y2="473.1" stroke="#888" stroke-width="0.8"/>
<line x1="381.5" y1="276.8" x2="381.5" y2="278.8" stroke="#888" stroke-width="0.8"/>
<line x1="427.9" y1="475.1" x2="427.9" y2="473.1" stroke="#888" stroke-width="0.8"/>
<line x1="427.9" y1="276.8" x2="427.9" y2="278.8" stroke="#888" stroke-width="0.8"/>
<line x1="474.3" y1="475.1" x2="474.3" y2="473.1" stroke="#888" stroke-width="0.8"/>
<line x1="474.3" y1="276.8" x2="474.3" y2="278.8" stroke="#888" stroke-width="0.8"/>
<line x1="520.7" y1="475.1" x2="520.7" y2="473.1" stroke="#888" stroke-width="0.8"/>
<line x1="520.7" y1="276.8" x2="520.7" y2="278.8" stroke="#888" stroke-width="0.8"/>
<line x1="567.1" y1="475.1" x2="567.1" y2="473.1" stroke="#888" stroke-width="0.8"/>
<line x1="567.1" y1="276.8" x2="567.1" y2="278.8" stroke="#888" stroke-width="0.8"/>
<line x1="381.5" y1="475.1" x2="383.5" y2="475.1" stroke="#888" stroke-width="0.8"/>
<line x1="567.1" y1="475.1" x2="565.1" y2="475.1" stroke="#888" stroke-width="0.8"/>
<line x1="381.5" y1="450.31" x2="383.5" y2="450.31" stroke="#888" stroke-width="0.8"/>
<line x1="567.1" y1="450.31" x2="565.1" y2="450.31" stroke="#888" stroke-width="0.8"/>
<line x1="381.5" y1="425.53" x2="383.5" y2="425.53" stroke="#888" stroke-width="0.8"/>
<line x1="567.1" y1="425.53" x2="565.1" y2="425.53" stroke="#888" stroke-width="0.8"/>
<line x1="381.5" y1="400.74" x2="383.5" y2="400.74" stroke="#888" stroke-width="0.8"/>
<line x1="567.1" y1="400.74" x2="565.1" y2="400.74" stroke="#888" stroke-width="0.8"/>
<line x1="381.5" y1="375.95" x2="383.5" y2="375.95" stroke="#888" stroke-width="0.8"/>
<line x1="567.1" y1="375.95" x2="565.1" y2="375.95" stroke="#888" stroke-width="0.8"/>
<line x1="381.5" y1="351.16" x2="383.5" y2="351.16" stroke="#888" stroke-width="0.8"/>
<line x1="567.1" y1="351.16" x2="565.1" y2="351.16" stroke="#888" stroke-width="0.8"/>
<line x1="381.5" y1="326.38" x2="383.5" y2="326.38" stroke="#888" stroke-width="0.8"/>
<line x1="567.1" y1="326.38" x2="565.1" y2="326.38" stroke="#888" stroke-width="0.8"/>
<line x1="381.5" y1="301.59" x2="383.5" y2="301.59" stroke="#888" stroke-width="0.8"/>
<line x1="567.1" y1="301.59" x2="565.1" y2="301.59" stroke="#888" stroke-width="0.8"/>
<line x1="381.5" y1="276.8" x2="383.5" y2="276.8" stroke="#888" stroke-width="0.8"/>
<line x1="567.1" y1="276.8" x2="565.1" y2="276.8" stroke="#888" stroke-width="0.8"/>
<text transform="translate(377.9 478.9) scale(1 1)" text-anchor="end" font-size="9.4">0</text>
<text transform="translate(377.9 454.11) scale(1 1)" text-anchor="end" font-size="9.4">0.5</text>
<text transform="translate(377.9 429.33) scale(1 1)" text-anchor="end" font-size="9.4">1</text>
<text transform="translate(377.9 404.54) scale(1 1)" text-anchor="end" font-size="9.4">1.5</text>
<text transform="translate(377.9 379.75) scale(1 1)" text-anchor="end" font-size="9.4">2</text>
<text transform="translate(377.9 354.96) scale(1 1)" text-anchor="end" font-size="9.4">2.5</text>
<text transform="translate(377.9 330.18) scale(1 1)" text-anchor="end" font-size="9.4">3</text>
<text transform="translate(377.9 305.39) scale(1 1)" text-anchor="end" font-size="9.4">3.5</text>
<text transform="translate(377.9 280.6) scale(1 1)" text-anchor="end" font-size="9.4">4</text>
<text transform="translate(381.5 488.4) scale(1 1)" text-anchor="middle" font-size="9.4">50</text>
<text transform="translate(427.9 488.4) scale(1 1)" text-anchor="middle" font-size="9.4">100</text>
<text transform="translate(474.3 488.4) scale(1 1)" text-anchor="middle" font-size="9.4">150</text>
<text transform="translate(520.7 488.4) scale(1 1)" text-anchor="middle" font-size="9.4">200</text>
<text transform="translate(567.1 488.4) scale(1 1)" text-anchor="middle" font-size="9.4">250</text>
<text transform="translate(474.3 500.5) scale(1 1.05)" text-anchor="middle" font-size="9.4">Number of Nodes</text>
<text transform="translate(360.4 375.95) scale(1 1) rotate(-90)" text-anchor="middle" font-size="10.9">Execution Time(S)</text>
<polyline points="381.5,460.86 427.9,410.24 474.3,406.78 520.7,367.2 567.1,359.78" fill="none" stroke="#ff0000" stroke-width="1.6" stroke-linejoin="round"/>
<path d="M381.5 454.71L385.95 460.86L381.5 467.01L377.05 460.86Z" fill="none" stroke="#ff0000" stroke-width="1.65"/>
<path d="M427.9 404.09L432.35 410.24L427.9 416.39L423.45 410.24Z" fill="none" stroke="#ff0000" stroke-width="1.65"/>
<path d="M474.3 400.63L478.75 406.78L474.3 412.93L469.85 406.78Z" fill="none" stroke="#ff0000" stroke-width="1.65"/>
<path d="M520.7 361.05L525.15 367.2L520.7 373.35L516.25 367.2Z" fill="none" stroke="#ff0000" stroke-width="1.65"/>
<path d="M567.1 353.63L571.55 359.78L567.1 365.93L562.65 359.78Z" fill="none" stroke="#ff0000" stroke-width="1.65"/>
<polyline points="381.5,470.31 427.9,459.42 474.3,377.09 520.7,364.73 567.1,327.62" fill="none" stroke="#00ff00" stroke-width="1.6" stroke-linejoin="round"/>
<path d="M381.5 464.71L386.5 473.91L376.5 473.91Z" fill="none" stroke="#00ff00" stroke-width="1.65" stroke-linejoin="miter"/>
<path d="M427.9 453.82L432.9 463.02L422.9 463.02Z" fill="none" stroke="#00ff00" stroke-width="1.65" stroke-linejoin="miter"/>
<path d="M474.3 371.49L479.3 380.69L469.3 380.69Z" fill="none" stroke="#00ff00" stroke-width="1.65" stroke-linejoin="miter"/>
<path d="M520.7 359.13L525.7 368.33L515.7 368.33Z" fill="none" stroke="#00ff00" stroke-width="1.65" stroke-linejoin="miter"/>
<path d="M567.1 322.02L572.1 331.22L562.1 331.22Z" fill="none" stroke="#00ff00" stroke-width="1.65" stroke-linejoin="miter"/>
<polyline points="381.5,461.2 427.9,353.35 474.3,345.93 520.7,323.17 567.1,287.05" fill="none" stroke="#0000ff" stroke-width="1.6" stroke-linejoin="round"/>
<ellipse cx="381.5" cy="461.2" rx="4.85" ry="5" fill="none" stroke="#0000ff" stroke-width="1.65"/>
<ellipse cx="427.9" cy="353.35" rx="4.85" ry="5" fill="none" stroke="#0000ff" stroke-width="1.65"/>
<ellipse cx="474.3" cy="345.93" rx="4.85" ry="5" fill="none" stroke="#0000ff" stroke-width="1.65"/>
<ellipse cx="520.7" cy="323.17" rx="4.85" ry="5" fill="none" stroke="#0000ff" stroke-width="1.65"/>
<ellipse cx="567.1" cy="287.05" rx="4.85" ry="5" fill="none" stroke="#0000ff" stroke-width="1.65"/>
<polyline points="381.5,460.86 427.9,421.13 474.3,376.11 520.7,365.22 567.1,289.03" fill="none" stroke="#ff00ff" stroke-width="1.6" stroke-linejoin="round"/>
<rect x="378.1" y="457.46" width="6.8" height="6.8" fill="none" stroke="#ff00ff" stroke-width="1.65"/>
<rect x="424.5" y="417.73" width="6.8" height="6.8" fill="none" stroke="#ff00ff" stroke-width="1.65"/>
<rect x="470.9" y="372.71" width="6.8" height="6.8" fill="none" stroke="#ff00ff" stroke-width="1.65"/>
<rect x="517.3" y="361.82" width="6.8" height="6.8" fill="none" stroke="#ff00ff" stroke-width="1.65"/>
<rect x="563.7" y="285.63" width="6.8" height="6.8" fill="none" stroke="#ff00ff" stroke-width="1.65"/>
<polyline points="381.5,470.31 427.9,461.55 474.3,412.72 520.7,408.26 567.1,389.96" fill="none" stroke="#00ffff" stroke-width="1.6" stroke-linejoin="round"/>
<path d="M381.5 463.91L383.03 468.2L387.59 468.33L383.97 471.11L385.26 475.48L381.5 472.91L377.74 475.48L379.03 471.11L375.41 468.33L379.97 468.2Z" fill="#00ffff" stroke="#00ffff" stroke-width="1.3" stroke-linejoin="miter"/><path d="M381.5 467.01L382.29 469.21L384.64 469.29L382.78 470.72L383.44 472.98L381.5 471.66L379.56 472.98L380.22 470.72L378.36 469.29L380.71 469.21Z" fill="#000"/>
<path d="M427.9 455.15L429.43 459.45L433.99 459.57L430.37 462.35L431.66 466.73L427.9 464.15L424.14 466.73L425.43 462.35L421.81 459.57L426.37 459.45Z" fill="#00ffff" stroke="#00ffff" stroke-width="1.3" stroke-linejoin="miter"/><path d="M427.9 458.25L428.69 460.46L431.04 460.53L429.18 461.97L429.84 464.22L427.9 462.9L425.96 464.22L426.62 461.97L424.76 460.53L427.11 460.46Z" fill="#000"/>
<path d="M474.3 406.32L475.83 410.61L480.39 410.74L476.77 413.52L478.06 417.89L474.3 415.32L470.54 417.89L471.83 413.52L468.21 410.74L472.77 410.61Z" fill="#00ffff" stroke="#00ffff" stroke-width="1.3" stroke-linejoin="miter"/><path d="M474.3 409.42L475.09 411.62L477.44 411.7L475.58 413.13L476.24 415.39L474.3 414.07L472.36 415.39L473.02 413.13L471.16 411.7L473.51 411.62Z" fill="#000"/>
<path d="M520.7 401.86L522.23 406.16L526.79 406.29L523.17 409.07L524.46 413.44L520.7 410.86L516.94 413.44L518.23 409.07L514.61 406.29L519.17 406.16Z" fill="#00ffff" stroke="#00ffff" stroke-width="1.3" stroke-linejoin="miter"/><path d="M520.7 404.96L521.49 407.17L523.84 407.24L521.98 408.68L522.64 410.93L520.7 409.61L518.76 410.93L519.42 408.68L517.56 407.24L519.91 407.17Z" fill="#000"/>
<path d="M567.1 383.56L568.63 387.85L573.19 387.98L569.57 390.76L570.86 395.14L567.1 392.56L563.34 395.14L564.63 390.76L561.01 387.98L565.57 387.85Z" fill="#00ffff" stroke="#00ffff" stroke-width="1.3" stroke-linejoin="miter"/><path d="M567.1 386.66L567.89 388.87L570.24 388.94L568.38 390.38L569.04 392.63L567.1 391.31L565.16 392.63L565.82 390.38L563.96 388.94L566.31 388.87Z" fill="#000"/>
<rect x="581.4" y="276.8" width="70.2" height="63.6" fill="#fff" stroke="#a2a2a2" stroke-width="1"/>
<line x1="584.2" y1="283.7" x2="606.6" y2="283.7" stroke="#ff0000" stroke-width="1.6"/>
<path d="M595.5 277.55L599.95 283.7L595.5 289.85L591.05 283.7Z" fill="none" stroke="#ff0000" stroke-width="1.65"/>
<text transform="translate(608.6 287.55) scale(1 1.05)" font-size="9.3">SCO</text>
<line x1="584.2" y1="296.08" x2="606.6" y2="296.08" stroke="#00ff00" stroke-width="1.6"/>
<path d="M595.5 290.48L600.5 299.68L590.5 299.68Z" fill="none" stroke="#00ff00" stroke-width="1.65" stroke-linejoin="miter"/>
<text transform="translate(608.6 299.93) scale(1 1.05)" font-size="9.3">FDA</text>
<line x1="584.2" y1="308.46" x2="606.6" y2="308.46" stroke="#0000ff" stroke-width="1.6"/>
<ellipse cx="595.5" cy="308.46" rx="4.85" ry="5" fill="none" stroke="#0000ff" stroke-width="1.65"/>
<text transform="translate(608.6 312.31) scale(1 1.05)" font-size="9.3">MRFO</text>
<line x1="584.2" y1="320.84" x2="606.6" y2="320.84" stroke="#ff00ff" stroke-width="1.6"/>
<rect x="592.1" y="317.44" width="6.8" height="6.8" fill="none" stroke="#ff00ff" stroke-width="1.65"/>
<text transform="translate(608.6 324.69) scale(1 1.05)" font-size="9.3">CBOA</text>
<line x1="584.2" y1="333.22" x2="606.6" y2="333.22" stroke="#00ffff" stroke-width="1.6"/>
<path d="M595.5 327.72L596.82 331.4L600.73 331.52L597.64 333.92L598.73 337.67L595.5 335.47L592.27 337.67L593.36 333.92L590.27 331.52L594.18 331.4Z" fill="#00ffff" stroke="#00ffff" stroke-width="1.3" stroke-linejoin="miter"/><path d="M595.5 331.62L595.91 332.65L597.02 332.73L596.17 333.44L596.44 334.51L595.5 333.92L594.56 334.51L594.83 333.44L593.98 332.73L595.09 332.65Z" fill="#000"/>
<text transform="translate(608.6 337.07) scale(1 1.05)" font-size="9.3">HMRFCO</text></g>
<g><line x1="86.8" y1="535.5" x2="86.8" y2="733.3" stroke="#efefef" stroke-width="1.5"/>
<line x1="133.4" y1="535.5" x2="133.4" y2="733.3" stroke="#efefef" stroke-width="1.5"/>
<line x1="180" y1="535.5" x2="180" y2="733.3" stroke="#efefef" stroke-width="1.5"/>
<line x1="40.2" y1="693.74" x2="226.6" y2="693.74" stroke="#efefef" stroke-width="1.5"/>
<line x1="40.2" y1="654.18" x2="226.6" y2="654.18" stroke="#efefef" stroke-width="1.5"/>
<line x1="40.2" y1="614.62" x2="226.6" y2="614.62" stroke="#efefef" stroke-width="1.5"/>
<line x1="40.2" y1="575.06" x2="226.6" y2="575.06" stroke="#efefef" stroke-width="1.5"/>
<rect x="40.2" y="535.5" width="186.4" height="197.8" fill="none" stroke="#8e8e8e" stroke-width="1"/>
<line x1="40.2" y1="733.3" x2="40.2" y2="731.3" stroke="#888" stroke-width="0.8"/>
<line x1="40.2" y1="535.5" x2="40.2" y2="537.5" stroke="#888" stroke-width="0.8"/>
<line x1="86.8" y1="733.3" x2="86.8" y2="731.3" stroke="#888" stroke-width="0.8"/>
<line x1="86.8" y1="535.5" x2="86.8" y2="537.5" stroke="#888" stroke-width="0.8"/>
<line x1="133.4" y1="733.3" x2="133.4" y2="731.3" stroke="#888" stroke-width="0.8"/>
<line x1="133.4" y1="535.5" x2="133.4" y2="537.5" stroke="#888" stroke-width="0.8"/>
<line x1="180" y1="733.3" x2="180" y2="731.3" stroke="#888" stroke-width="0.8"/>
<line x1="180" y1="535.5" x2="180" y2="537.5" stroke="#888" stroke-width="0.8"/>
<line x1="226.6" y1="733.3" x2="226.6" y2="731.3" stroke="#888" stroke-width="0.8"/>
<line x1="226.6" y1="535.5" x2="226.6" y2="537.5" stroke="#888" stroke-width="0.8"/>
<line x1="40.2" y1="733.3" x2="42.2" y2="733.3" stroke="#888" stroke-width="0.8"/>
<line x1="226.6" y1="733.3" x2="224.6" y2="733.3" stroke="#888" stroke-width="0.8"/>
<line x1="40.2" y1="693.74" x2="42.2" y2="693.74" stroke="#888" stroke-width="0.8"/>
<line x1="226.6" y1="693.74" x2="224.6" y2="693.74" stroke="#888" stroke-width="0.8"/>
<line x1="40.2" y1="654.18" x2="42.2" y2="654.18" stroke="#888" stroke-width="0.8"/>
<line x1="226.6" y1="654.18" x2="224.6" y2="654.18" stroke="#888" stroke-width="0.8"/>
<line x1="40.2" y1="614.62" x2="42.2" y2="614.62" stroke="#888" stroke-width="0.8"/>
<line x1="226.6" y1="614.62" x2="224.6" y2="614.62" stroke="#888" stroke-width="0.8"/>
<line x1="40.2" y1="575.06" x2="42.2" y2="575.06" stroke="#888" stroke-width="0.8"/>
<line x1="226.6" y1="575.06" x2="224.6" y2="575.06" stroke="#888" stroke-width="0.8"/>
<line x1="40.2" y1="535.5" x2="42.2" y2="535.5" stroke="#888" stroke-width="0.8"/>
<line x1="226.6" y1="535.5" x2="224.6" y2="535.5" stroke="#888" stroke-width="0.8"/>
<text transform="translate(36.6 737.1) scale(1 1)" text-anchor="end" font-size="9.4">60</text>
<text transform="translate(36.6 697.54) scale(1 1)" text-anchor="end" font-size="9.4">65</text>
<text transform="translate(36.6 657.98) scale(1 1)" text-anchor="end" font-size="9.4">70</text>
<text transform="translate(36.6 618.42) scale(1 1)" text-anchor="end" font-size="9.4">75</text>
<text transform="translate(36.6 578.86) scale(1 1)" text-anchor="end" font-size="9.4">80</text>
<text transform="translate(36.6 539.3) scale(1 1)" text-anchor="end" font-size="9.4">85</text>
<text transform="translate(40.2 746.6) scale(1 1)" text-anchor="middle" font-size="9.4">50</text>
<text transform="translate(86.8 746.6) scale(1 1)" text-anchor="middle" font-size="9.4">100</text>
<text transform="translate(133.4 746.6) scale(1 1)" text-anchor="middle" font-size="9.4">150</text>
<text transform="translate(180 746.6) scale(1 1)" text-anchor="middle" font-size="9.4">200</text>
<text transform="translate(226.6 746.6) scale(1 1)" text-anchor="middle" font-size="9.4">250</text>
<text transform="translate(133.4 758.7) scale(1 1.05)" text-anchor="middle" font-size="9.4">Number of Nodes</text>
<text transform="translate(21.7 634.4) scale(1 1) rotate(-90)" text-anchor="middle" font-size="10.9">Makespan(%)</text>
<polyline points="40.2,714.95 86.8,676.79 133.4,663.89 180,633.02 226.6,594.47" fill="none" stroke="#ff0000" stroke-width="1.6" stroke-linejoin="round"/>
<path d="M40.2 708.8L44.65 714.95L40.2 721.1L35.75 714.95Z" fill="none" stroke="#ff0000" stroke-width="1.65"/>
<path d="M86.8 670.64L91.25 676.79L86.8 682.94L82.35 676.79Z" fill="none" stroke="#ff0000" stroke-width="1.65"/>
<path d="M133.4 657.74L137.85 663.89L133.4 670.04L128.95 663.89Z" fill="none" stroke="#ff0000" stroke-width="1.65"/>
<path d="M180 626.87L184.45 633.02L180 639.17L175.55 633.02Z" fill="none" stroke="#ff0000" stroke-width="1.65"/>
<path d="M226.6 588.32L231.05 594.47L226.6 600.62L222.15 594.47Z" fill="none" stroke="#ff0000" stroke-width="1.65"/>
<polyline points="40.2,717.72 86.8,665.23 133.4,628.82 180,609.59 226.6,574.44" fill="none" stroke="#00ff00" stroke-width="1.6" stroke-linejoin="round"/>
<path d="M40.2 712.12L45.2 721.32L35.2 721.32Z" fill="none" stroke="#00ff00" stroke-width="1.65" stroke-linejoin="miter"/>
<path d="M86.8 659.63L91.8 668.83L81.8 668.83Z" fill="none" stroke="#00ff00" stroke-width="1.65" stroke-linejoin="miter"/>
<path d="M133.4 623.22L138.4 632.42L128.4 632.42Z" fill="none" stroke="#00ff00" stroke-width="1.65" stroke-linejoin="miter"/>
<path d="M180 603.99L185 613.19L175 613.19Z" fill="none" stroke="#00ff00" stroke-width="1.65" stroke-linejoin="miter"/>
<path d="M226.6 568.84L231.6 578.04L221.6 578.04Z" fill="none" stroke="#00ff00" stroke-width="1.65" stroke-linejoin="miter"/>
<polyline points="40.2,723.02 86.8,713.76 133.4,690.01 180,674.34 226.6,559.79" fill="none" stroke="#0000ff" stroke-width="1.6" stroke-linejoin="round"/>
<ellipse cx="40.2" cy="723.02" rx="4.85" ry="5" fill="none" stroke="#0000ff" stroke-width="1.65"/>
<ellipse cx="86.8" cy="713.76" rx="4.85" ry="5" fill="none" stroke="#0000ff" stroke-width="1.65"/>
<ellipse cx="133.4" cy="690.01" rx="4.85" ry="5" fill="none" stroke="#0000ff" stroke-width="1.65"/>
<ellipse cx="180" cy="674.34" rx="4.85" ry="5" fill="none" stroke="#0000ff" stroke-width="1.65"/>
<ellipse cx="226.6" cy="559.79" rx="4.85" ry="5" fill="none" stroke="#0000ff" stroke-width="1.65"/>
<polyline points="40.2,706.95 86.8,690.01 133.4,637.77 180,610.85 226.6,543.57" fill="none" stroke="#ff00ff" stroke-width="1.6" stroke-linejoin="round"/>
<rect x="36.8" y="703.55" width="6.8" height="6.8" fill="none" stroke="#ff00ff" stroke-width="1.65"/>
<rect x="83.4" y="686.61" width="6.8" height="6.8" fill="none" stroke="#ff00ff" stroke-width="1.65"/>
<rect x="130" y="634.37" width="6.8" height="6.8" fill="none" stroke="#ff00ff" stroke-width="1.65"/>
<rect x="176.6" y="607.45" width="6.8" height="6.8" fill="none" stroke="#ff00ff" stroke-width="1.65"/>
<rect x="223.2" y="540.17" width="6.8" height="6.8" fill="none" stroke="#ff00ff" stroke-width="1.65"/>
<polyline points="40.2,684.87 86.8,629.85 133.4,615.13 180,580.77 226.6,538.02" fill="none" stroke="#00ffff" stroke-width="1.6" stroke-linejoin="round"/>
<path d="M40.2 678.47L41.73 682.76L46.29 682.89L42.67 685.67L43.96 690.04L40.2 687.47L36.44 690.04L37.73 685.67L34.11 682.89L38.67 682.76Z" fill="#00ffff" stroke="#00ffff" stroke-width="1.3" stroke-linejoin="miter"/><path d="M40.2 681.57L40.99 683.77L43.34 683.85L41.48 685.28L42.14 687.54L40.2 686.22L38.26 687.54L38.92 685.28L37.06 683.85L39.41 683.77Z" fill="#000"/>
<path d="M86.8 623.45L88.33 627.75L92.89 627.87L89.27 630.65L90.56 635.03L86.8 632.45L83.04 635.03L84.33 630.65L80.71 627.87L85.27 627.75Z" fill="#00ffff" stroke="#00ffff" stroke-width="1.3" stroke-linejoin="miter"/><path d="M86.8 626.55L87.59 628.76L89.94 628.83L88.08 630.27L88.74 632.52L86.8 631.2L84.86 632.52L85.52 630.27L83.66 628.83L86.01 628.76Z" fill="#000"/>
<path d="M133.4 608.73L134.93 613.02L139.49 613.15L135.87 615.93L137.16 620.3L133.4 617.73L129.64 620.3L130.93 615.93L127.31 613.15L131.87 613.02Z" fill="#00ffff" stroke="#00ffff" stroke-width="1.3" stroke-linejoin="miter"/><path d="M133.4 611.83L134.19 614.03L136.54 614.11L134.68 615.54L135.34 617.8L133.4 616.48L131.46 617.8L132.12 615.54L130.26 614.11L132.61 614.03Z" fill="#000"/>
<path d="M180 574.37L181.53 578.67L186.09 578.79L182.47 581.57L183.76 585.95L180 583.37L176.24 585.95L177.53 581.57L173.91 578.79L178.47 578.67Z" fill="#00ffff" stroke="#00ffff" stroke-width="1.3" stroke-linejoin="miter"/><path d="M180 577.47L180.79 579.68L183.14 579.75L181.28 581.19L181.94 583.44L180 582.12L178.06 583.44L178.72 581.19L176.86 579.75L179.21 579.68Z" fill="#000"/>
<path d="M226.6 531.62L228.13 535.92L232.69 536.05L229.07 538.83L230.36 543.2L226.6 540.62L222.84 543.2L224.13 538.83L220.51 536.05L225.07 535.92Z" fill="#00ffff" stroke="#00ffff" stroke-width="1.3" stroke-linejoin="miter"/><path d="M226.6 534.72L227.39 536.93L229.74 537.01L227.88 538.44L228.54 540.69L226.6 539.37L224.66 540.69L225.32 538.44L223.46 537.01L225.81 536.93Z" fill="#000"/>
<rect x="240.5" y="535.5" width="71" height="63.6" fill="#fff" stroke="#a2a2a2" stroke-width="1"/>
<line x1="243.3" y1="542.4" x2="265.7" y2="542.4" stroke="#ff0000" stroke-width="1.6"/>
<path d="M254.6 536.25L259.05 542.4L254.6 548.55L250.15 542.4Z" fill="none" stroke="#ff0000" stroke-width="1.65"/>
<text transform="translate(267.7 546.25) scale(1 1.05)" font-size="9.3">SCO</text>
<line x1="243.3" y1="554.78" x2="265.7" y2="554.78" stroke="#00ff00" stroke-width="1.6"/>
<path d="M254.6 549.18L259.6 558.38L249.6 558.38Z" fill="none" stroke="#00ff00" stroke-width="1.65" stroke-linejoin="miter"/>
<text transform="translate(267.7 558.63) scale(1 1.05)" font-size="9.3">FDA</text>
<line x1="243.3" y1="567.16" x2="265.7" y2="567.16" stroke="#0000ff" stroke-width="1.6"/>
<ellipse cx="254.6" cy="567.16" rx="4.85" ry="5" fill="none" stroke="#0000ff" stroke-width="1.65"/>
<text transform="translate(267.7 571.01) scale(1 1.05)" font-size="9.3">MRFO</text>
<line x1="243.3" y1="579.54" x2="265.7" y2="579.54" stroke="#ff00ff" stroke-width="1.6"/>
<rect x="251.2" y="576.14" width="6.8" height="6.8" fill="none" stroke="#ff00ff" stroke-width="1.65"/>
<text transform="translate(267.7 583.39) scale(1 1.05)" font-size="9.3">CBOA</text>
<line x1="243.3" y1="591.92" x2="265.7" y2="591.92" stroke="#00ffff" stroke-width="1.6"/>
<path d="M254.6 586.42L255.92 590.1L259.83 590.22L256.74 592.62L257.83 596.37L254.6 594.17L251.37 596.37L252.46 592.62L249.37 590.22L253.28 590.1Z" fill="#00ffff" stroke="#00ffff" stroke-width="1.3" stroke-linejoin="miter"/><path d="M254.6 590.32L255.01 591.35L256.12 591.43L255.27 592.14L255.54 593.21L254.6 592.62L253.66 593.21L253.93 592.14L253.08 591.43L254.19 591.35Z" fill="#000"/>
<text transform="translate(267.7 595.77) scale(1 1.05)" font-size="9.3">HMRFCO</text></g>
<g><line x1="427.07" y1="535.5" x2="427.07" y2="733.3" stroke="#efefef" stroke-width="1.5"/>
<line x1="473.75" y1="535.5" x2="473.75" y2="733.3" stroke="#efefef" stroke-width="1.5"/>
<line x1="520.42" y1="535.5" x2="520.42" y2="733.3" stroke="#efefef" stroke-width="1.5"/>
<line x1="380.4" y1="683.85" x2="567.1" y2="683.85" stroke="#efefef" stroke-width="1.5"/>
<line x1="380.4" y1="634.4" x2="567.1" y2="634.4" stroke="#efefef" stroke-width="1.5"/>
<line x1="380.4" y1="584.95" x2="567.1" y2="584.95" stroke="#efefef" stroke-width="1.5"/>
<rect x="380.4" y="535.5" width="186.7" height="197.8" fill="none" stroke="#8e8e8e" stroke-width="1"/>
<line x1="380.4" y1="733.3" x2="380.4" y2="731.3" stroke="#888" stroke-width="0.8"/>
<line x1="380.4" y1="535.5" x2="380.4" y2="537.5" stroke="#888" stroke-width="0.8"/>
<line x1="427.07" y1="733.3" x2="427.07" y2="731.3" stroke="#888" stroke-width="0.8"/>
<line x1="427.07" y1="535.5" x2="427.07" y2="537.5" stroke="#888" stroke-width="0.8"/>
<line x1="473.75" y1="733.3" x2="473.75" y2="731.3" stroke="#888" stroke-width="0.8"/>
<line x1="473.75" y1="535.5" x2="473.75" y2="537.5" stroke="#888" stroke-width="0.8"/>
<line x1="520.42" y1="733.3" x2="520.42" y2="731.3" stroke="#888" stroke-width="0.8"/>
<line x1="520.42" y1="535.5" x2="520.42" y2="537.5" stroke="#888" stroke-width="0.8"/>
<line x1="567.1" y1="733.3" x2="567.1" y2="731.3" stroke="#888" stroke-width="0.8"/>
<line x1="567.1" y1="535.5" x2="567.1" y2="537.5" stroke="#888" stroke-width="0.8"/>
<line x1="380.4" y1="733.3" x2="382.4" y2="733.3" stroke="#888" stroke-width="0.8"/>
<line x1="567.1" y1="733.3" x2="565.1" y2="733.3" stroke="#888" stroke-width="0.8"/>
<line x1="380.4" y1="683.85" x2="382.4" y2="683.85" stroke="#888" stroke-width="0.8"/>
<line x1="567.1" y1="683.85" x2="565.1" y2="683.85" stroke="#888" stroke-width="0.8"/>
<line x1="380.4" y1="634.4" x2="382.4" y2="634.4" stroke="#888" stroke-width="0.8"/>
<line x1="567.1" y1="634.4" x2="565.1" y2="634.4" stroke="#888" stroke-width="0.8"/>
<line x1="380.4" y1="584.95" x2="382.4" y2="584.95" stroke="#888" stroke-width="0.8"/>
<line x1="567.1" y1="584.95" x2="565.1" y2="584.95" stroke="#888" stroke-width="0.8"/>
<line x1="380.4" y1="535.5" x2="382.4" y2="535.5" stroke="#888" stroke-width="0.8"/>
<line x1="567.1" y1="535.5" x2="565.1" y2="535.5" stroke="#888" stroke-width="0.8"/>
<text transform="translate(376.8 737.1) scale(1 1)" text-anchor="end" font-size="9.4">70</text>
<text transform="translate(376.8 687.65) scale(1 1)" text-anchor="end" font-size="9.4">75</text>
<text transform="translate(376.8 638.2) scale(1 1)" text-anchor="end" font-size="9.4">80</text>
<text transform="translate(376.8 588.75) scale(1 1)" text-anchor="end" font-size="9.4">85</text>
<text transform="translate(376.8 539.3) scale(1 1)" text-anchor="end" font-size="9.4">90</text>
<text transform="translate(380.4 746.6) scale(1 1)" text-anchor="middle" font-size="9.4">50</text>
<text transform="translate(427.07 746.6) scale(1 1)" text-anchor="middle" font-size="9.4">100</text>
<text transform="translate(473.75 746.6) scale(1 1)" text-anchor="middle" font-size="9.4">150</text>
<text transform="translate(520.42 746.6) scale(1 1)" text-anchor="middle" font-size="9.4">200</text>
<text transform="translate(567.1 746.6) scale(1 1)" text-anchor="middle" font-size="9.4">250</text>
<text transform="translate(473.75 758.7) scale(1 1.05)" text-anchor="middle" font-size="9.4">Number of Nodes</text>
<text transform="translate(361.9 634.4) scale(1 1) rotate(-90)" text-anchor="middle" font-size="10.9">Network Capacity(bps/Hz)</text>
<polyline points="380.4,682.39 427.07,674.67 473.75,625 520.42,597.99 567.1,572.46" fill="none" stroke="#ff0000" stroke-width="1.6" stroke-linejoin="round"/>
<path d="M380.4 676.24L384.85 682.39L380.4 688.54L375.95 682.39Z" fill="none" stroke="#ff0000" stroke-width="1.65"/>
<path d="M427.07 668.52L431.52 674.67L427.07 680.82L422.62 674.67Z" fill="none" stroke="#ff0000" stroke-width="1.65"/>
<path d="M473.75 618.85L478.2 625L473.75 631.15L469.3 625Z" fill="none" stroke="#ff0000" stroke-width="1.65"/>
<path d="M520.42 591.84L524.88 597.99L520.42 604.14L515.97 597.99Z" fill="none" stroke="#ff0000" stroke-width="1.65"/>
<path d="M567.1 566.31L571.55 572.46L567.1 578.61L562.65 572.46Z" fill="none" stroke="#ff0000" stroke-width="1.65"/>
<polyline points="380.4,720.19 427.07,718.71 473.75,706.64 520.42,605.9 567.1,574.24" fill="none" stroke="#00ff00" stroke-width="1.6" stroke-linejoin="round"/>
<path d="M380.4 714.59L385.4 723.79L375.4 723.79Z" fill="none" stroke="#00ff00" stroke-width="1.65" stroke-linejoin="miter"/>
<path d="M427.07 713.11L432.07 722.31L422.07 722.31Z" fill="none" stroke="#00ff00" stroke-width="1.65" stroke-linejoin="miter"/>
<path d="M473.75 701.04L478.75 710.24L468.75 710.24Z" fill="none" stroke="#00ff00" stroke-width="1.65" stroke-linejoin="miter"/>
<path d="M520.42 600.3L525.42 609.5L515.42 609.5Z" fill="none" stroke="#00ff00" stroke-width="1.65" stroke-linejoin="miter"/>
<path d="M567.1 568.64L572.1 577.84L562.1 577.84Z" fill="none" stroke="#00ff00" stroke-width="1.65" stroke-linejoin="miter"/>
<polyline points="380.4,722.37 427.07,673.69 473.75,591.06 520.42,577.7 567.1,545.15" fill="none" stroke="#0000ff" stroke-width="1.6" stroke-linejoin="round"/>
<ellipse cx="380.4" cy="722.37" rx="4.85" ry="5" fill="none" stroke="#0000ff" stroke-width="1.65"/>
<ellipse cx="427.07" cy="673.69" rx="4.85" ry="5" fill="none" stroke="#0000ff" stroke-width="1.65"/>
<ellipse cx="473.75" cy="591.06" rx="4.85" ry="5" fill="none" stroke="#0000ff" stroke-width="1.65"/>
<ellipse cx="520.42" cy="577.7" rx="4.85" ry="5" fill="none" stroke="#0000ff" stroke-width="1.65"/>
<ellipse cx="567.1" cy="545.15" rx="4.85" ry="5" fill="none" stroke="#0000ff" stroke-width="1.65"/>
<polyline points="380.4,731.08 427.07,679.23 473.75,644.89 520.42,613.03 567.1,569.59" fill="none" stroke="#ff00ff" stroke-width="1.6" stroke-linejoin="round"/>
<rect x="377" y="727.68" width="6.8" height="6.8" fill="none" stroke="#ff00ff" stroke-width="1.65"/>
<rect x="423.68" y="675.83" width="6.8" height="6.8" fill="none" stroke="#ff00ff" stroke-width="1.65"/>
<rect x="470.35" y="641.49" width="6.8" height="6.8" fill="none" stroke="#ff00ff" stroke-width="1.65"/>
<rect x="517.02" y="609.63" width="6.8" height="6.8" fill="none" stroke="#ff00ff" stroke-width="1.65"/>
<rect x="563.7" y="566.19" width="6.8" height="6.8" fill="none" stroke="#ff00ff" stroke-width="1.65"/>
<polyline points="380.4,663.89 427.07,655.78 473.75,575.23 520.42,553.86 567.1,542.97" fill="none" stroke="#00ffff" stroke-width="1.6" stroke-linejoin="round"/>
<path d="M380.4 657.49L381.93 661.79L386.49 661.91L382.87 664.69L384.16 669.07L380.4 666.49L376.64 669.07L377.93 664.69L374.31 661.91L378.87 661.79Z" fill="#00ffff" stroke="#00ffff" stroke-width="1.3" stroke-linejoin="miter"/><path d="M380.4 660.59L381.19 662.8L383.54 662.87L381.68 664.31L382.34 666.56L380.4 665.24L378.46 666.56L379.12 664.31L377.26 662.87L379.61 662.8Z" fill="#000"/>
<path d="M427.07 649.38L428.6 653.67L433.16 653.8L429.55 656.58L430.84 660.95L427.07 658.38L423.31 660.95L424.6 656.58L420.99 653.8L425.55 653.67Z" fill="#00ffff" stroke="#00ffff" stroke-width="1.3" stroke-linejoin="miter"/><path d="M427.07 652.48L427.87 654.68L430.21 654.76L428.36 656.19L429.01 658.45L427.07 657.13L425.14 658.45L425.79 656.19L423.94 654.76L426.28 654.68Z" fill="#000"/>
<path d="M473.75 568.83L475.28 573.13L479.84 573.25L476.22 576.03L477.51 580.41L473.75 577.83L469.99 580.41L471.28 576.03L467.66 573.25L472.22 573.13Z" fill="#00ffff" stroke="#00ffff" stroke-width="1.3" stroke-linejoin="miter"/><path d="M473.75 571.93L474.54 574.14L476.89 574.21L475.03 575.65L475.69 577.9L473.75 576.58L471.81 577.9L472.47 575.65L470.61 574.21L472.96 574.14Z" fill="#000"/>
<path d="M520.42 547.46L521.95 551.75L526.51 551.88L522.9 554.66L524.19 559.03L520.42 556.46L516.66 559.03L517.95 554.66L514.34 551.88L518.9 551.75Z" fill="#00ffff" stroke="#00ffff" stroke-width="1.3" stroke-linejoin="miter"/><path d="M520.42 550.56L521.22 552.76L523.56 552.84L521.71 554.27L522.36 556.53L520.42 555.21L518.49 556.53L519.14 554.27L517.29 552.84L519.63 552.76Z" fill="#000"/>
<path d="M567.1 536.57L568.63 540.87L573.19 540.99L569.57 543.78L570.86 548.15L567.1 545.57L563.34 548.15L564.63 543.78L561.01 540.99L565.57 540.87Z" fill="#00ffff" stroke="#00ffff" stroke-width="1.3" stroke-linejoin="miter"/><path d="M567.1 539.67L567.89 541.88L570.24 541.95L568.38 543.39L569.04 545.64L567.1 544.32L565.16 545.64L565.82 543.39L563.96 541.95L566.31 541.88Z" fill="#000"/>
<rect x="581.4" y="535.5" width="70.2" height="63.6" fill="#fff" stroke="#a2a2a2" stroke-width="1"/>
<line x1="584.2" y1="542.4" x2="606.6" y2="542.4" stroke="#ff0000" stroke-width="1.6"/>
<path d="M595.5 536.25L599.95 542.4L595.5 548.55L591.05 542.4Z" fill="none" stroke="#ff0000" stroke-width="1.65"/>
<text transform="translate(608.6 546.25) scale(1 1.05)" font-size="9.3">SCO</text>
<line x1="584.2" y1="554.78" x2="606.6" y2="554.78" stroke="#00ff00" stroke-width="1.6"/>
<path d="M595.5 549.18L600.5 558.38L590.5 558.38Z" fill="none" stroke="#00ff00" stroke-width="1.65" stroke-linejoin="miter"/>
<text transform="translate(608.6 558.63) scale(1 1.05)" font-size="9.3">FDA</text>
<line x1="584.2" y1="567.16" x2="606.6" y2="567.16" stroke="#0000ff" stroke-width="1.6"/>
<ellipse cx="595.5" cy="567.16" rx="4.85" ry="5" fill="none" stroke="#0000ff" stroke-width="1.65"/>
<text transform="translate(608.6 571.01) scale(1 1.05)" font-size="9.3">MRFO</text>
<line x1="584.2" y1="579.54" x2="606.6" y2="579.54" stroke="#ff00ff" stroke-width="1.6"/>
<rect x="592.1" y="576.14" width="6.8" height="6.8" fill="none" stroke="#ff00ff" stroke-width="1.65"/>
<text transform="translate(608.6 583.39) scale(1 1.05)" font-size="9.3">CBOA</text>
<line x1="584.2" y1="591.92" x2="606.6" y2="591.92" stroke="#00ffff" stroke-width="1.6"/>
<path d="M595.5 586.42L596.82 590.1L600.73 590.22L597.64 592.62L598.73 596.37L595.5 594.17L592.27 596.37L593.36 592.62L590.27 590.22L594.18 590.1Z" fill="#00ffff" stroke="#00ffff" stroke-width="1.3" stroke-linejoin="miter"/><path d="M595.5 590.32L595.91 591.35L597.02 591.43L596.17 592.14L596.44 593.21L595.5 592.62L594.56 593.21L594.83 592.14L593.98 591.43L595.09 591.35Z" fill="#000"/>
<text transform="translate(608.6 595.77) scale(1 1.05)" font-size="9.3">HMRFCO</text></g>
<g><line x1="86.57" y1="793.5" x2="86.57" y2="991.4" stroke="#efefef" stroke-width="1.5"/>
<line x1="133.25" y1="793.5" x2="133.25" y2="991.4" stroke="#efefef" stroke-width="1.5"/>
<line x1="179.92" y1="793.5" x2="179.92" y2="991.4" stroke="#efefef" stroke-width="1.5"/>
<line x1="39.9" y1="966.66" x2="226.6" y2="966.66" stroke="#efefef" stroke-width="1.5"/>
<line x1="39.9" y1="941.92" x2="226.6" y2="941.92" stroke="#efefef" stroke-width="1.5"/>
<line x1="39.9" y1="917.19" x2="226.6" y2="917.19" stroke="#efefef" stroke-width="1.5"/>
<line x1="39.9" y1="892.45" x2="226.6" y2="892.45" stroke="#efefef" stroke-width="1.5"/>
<line x1="39.9" y1="867.71" x2="226.6" y2="867.71" stroke="#efefef" stroke-width="1.5"/>
<line x1="39.9" y1="842.98" x2="226.6" y2="842.98" stroke="#efefef" stroke-width="1.5"/>
<line x1="39.9" y1="818.24" x2="226.6" y2="818.24" stroke="#efefef" stroke-width="1.5"/>
<rect x="39.9" y="793.5" width="186.7" height="197.9" fill="none" stroke="#8e8e8e" stroke-width="1"/>
<line x1="39.9" y1="991.4" x2="39.9" y2="989.4" stroke="#888" stroke-width="0.8"/>
<line x1="39.9" y1="793.5" x2="39.9" y2="795.5" stroke="#888" stroke-width="0.8"/>
<line x1="86.57" y1="991.4" x2="86.57" y2="989.4" stroke="#888" stroke-width="0.8"/>
<line x1="86.57" y1="793.5" x2="86.57" y2="795.5" stroke="#888" stroke-width="0.8"/>
<line x1="133.25" y1="991.4" x2="133.25" y2="989.4" stroke="#888" stroke-width="0.8"/>
<line x1="133.25" y1="793.5" x2="133.25" y2="795.5" stroke="#888" stroke-width="0.8"/>
<line x1="179.92" y1="991.4" x2="179.92" y2="989.4" stroke="#888" stroke-width="0.8"/>
<line x1="179.92" y1="793.5" x2="179.92" y2="795.5" stroke="#888" stroke-width="0.8"/>
<line x1="226.6" y1="991.4" x2="226.6" y2="989.4" stroke="#888" stroke-width="0.8"/>
<line x1="226.6" y1="793.5" x2="226.6" y2="795.5" stroke="#888" stroke-width="0.8"/>
<line x1="39.9" y1="991.4" x2="41.9" y2="991.4" stroke="#888" stroke-width="0.8"/>
<line x1="226.6" y1="991.4" x2="224.6" y2="991.4" stroke="#888" stroke-width="0.8"/>
<line x1="39.9" y1="966.66" x2="41.9" y2="966.66" stroke="#888" stroke-width="0.8"/>
<line x1="226.6" y1="966.66" x2="224.6" y2="966.66" stroke="#888" stroke-width="0.8"/>
<line x1="39.9" y1="941.92" x2="41.9" y2="941.92" stroke="#888" stroke-width="0.8"/>
<line x1="226.6" y1="941.92" x2="224.6" y2="941.92" stroke="#888" stroke-width="0.8"/>
<line x1="39.9" y1="917.19" x2="41.9" y2="917.19" stroke="#888" stroke-width="0.8"/>
<line x1="226.6" y1="917.19" x2="224.6" y2="917.19" stroke="#888" stroke-width="0.8"/>
<line x1="39.9" y1="892.45" x2="41.9" y2="892.45" stroke="#888" stroke-width="0.8"/>
<line x1="226.6" y1="892.45" x2="224.6" y2="892.45" stroke="#888" stroke-width="0.8"/>
<line x1="39.9" y1="867.71" x2="41.9" y2="867.71" stroke="#888" stroke-width="0.8"/>
<line x1="226.6" y1="867.71" x2="224.6" y2="867.71" stroke="#888" stroke-width="0.8"/>
<line x1="39.9" y1="842.98" x2="41.9" y2="842.98" stroke="#888" stroke-width="0.8"/>
<line x1="226.6" y1="842.98" x2="224.6" y2="842.98" stroke="#888" stroke-width="0.8"/>
<line x1="39.9" y1="818.24" x2="41.9" y2="818.24" stroke="#888" stroke-width="0.8"/>
<line x1="226.6" y1="818.24" x2="224.6" y2="818.24" stroke="#888" stroke-width="0.8"/>
<line x1="39.9" y1="793.5" x2="41.9" y2="793.5" stroke="#888" stroke-width="0.8"/>
<line x1="226.6" y1="793.5" x2="224.6" y2="793.5" stroke="#888" stroke-width="0.8"/>
<text transform="translate(36.3 995.2) scale(1 1)" text-anchor="end" font-size="9.4">50</text>
<text transform="translate(36.3 970.46) scale(1 1)" text-anchor="end" font-size="9.4">55</text>
<text transform="translate(36.3 945.72) scale(1 1)" text-anchor="end" font-size="9.4">60</text>
<text transform="translate(36.3 920.99) scale(1 1)" text-anchor="end" font-size="9.4">65</text>
<text transform="translate(36.3 896.25) scale(1 1)" text-anchor="end" font-size="9.4">70</text>
<text transform="translate(36.3 871.51) scale(1 1)" text-anchor="end" font-size="9.4">75</text>
<text transform="translate(36.3 846.77) scale(1 1)" text-anchor="end" font-size="9.4">80</text>
<text transform="translate(36.3 822.04) scale(1 1)" text-anchor="end" font-size="9.4">85</text>
<text transform="translate(36.3 797.3) scale(1 1)" text-anchor="end" font-size="9.4">90</text>
<text transform="translate(39.9 1004.7) scale(1 1)" text-anchor="middle" font-size="9.4">50</text>
<text transform="translate(86.57 1004.7) scale(1 1)" text-anchor="middle" font-size="9.4">100</text>
<text transform="translate(133.25 1004.7) scale(1 1)" text-anchor="middle" font-size="9.4">150</text>
<text transform="translate(179.92 1004.7) scale(1 1)" text-anchor="middle" font-size="9.4">200</text>
<text transform="translate(226.6 1004.7) scale(1 1)" text-anchor="middle" font-size="9.4">250</text>
<text transform="translate(133.25 1016.8) scale(1 1.05)" text-anchor="middle" font-size="9.4">Number of Nodes</text>
<text transform="translate(21.7 892.45) scale(1 1) rotate(-90)" text-anchor="middle" font-size="10.9">Success Rate(%)</text>
<polyline points="39.9,975.81 86.57,975.81 133.25,917.3 179.92,817.41 226.6,798.16" fill="none" stroke="#ff0000" stroke-width="1.6" stroke-linejoin="round"/>
<path d="M39.9 969.66L44.35 975.81L39.9 981.96L35.45 975.81Z" fill="none" stroke="#ff0000" stroke-width="1.65"/>
<path d="M86.57 969.66L91.02 975.81L86.57 981.96L82.12 975.81Z" fill="none" stroke="#ff0000" stroke-width="1.65"/>
<path d="M133.25 911.15L137.7 917.3L133.25 923.45L128.8 917.3Z" fill="none" stroke="#ff0000" stroke-width="1.65"/>
<path d="M179.92 811.26L184.37 817.41L179.92 823.56L175.47 817.41Z" fill="none" stroke="#ff0000" stroke-width="1.65"/>
<path d="M226.6 792.01L231.05 798.16L226.6 804.31L222.15 798.16Z" fill="none" stroke="#ff0000" stroke-width="1.65"/>
<polyline points="39.9,987.05 86.57,938 133.25,913.44 179.92,881.57 226.6,869.69" fill="none" stroke="#00ff00" stroke-width="1.6" stroke-linejoin="round"/>
<path d="M39.9 981.45L44.9 990.65L34.9 990.65Z" fill="none" stroke="#00ff00" stroke-width="1.65" stroke-linejoin="miter"/>
<path d="M86.57 932.39L91.57 941.6L81.57 941.6Z" fill="none" stroke="#00ff00" stroke-width="1.65" stroke-linejoin="miter"/>
<path d="M133.25 907.84L138.25 917.04L128.25 917.04Z" fill="none" stroke="#00ff00" stroke-width="1.65" stroke-linejoin="miter"/>
<path d="M179.92 875.97L184.92 885.17L174.92 885.17Z" fill="none" stroke="#00ff00" stroke-width="1.65" stroke-linejoin="miter"/>
<path d="M226.6 864.09L231.6 873.29L221.6 873.29Z" fill="none" stroke="#00ff00" stroke-width="1.65" stroke-linejoin="miter"/>
<polyline points="39.9,978.29 86.57,960.77 133.25,938 179.92,920.82 226.6,917.3" fill="none" stroke="#0000ff" stroke-width="1.6" stroke-linejoin="round"/>
<ellipse cx="39.9" cy="978.29" rx="4.85" ry="5" fill="none" stroke="#0000ff" stroke-width="1.65"/>
<ellipse cx="86.57" cy="960.77" rx="4.85" ry="5" fill="none" stroke="#0000ff" stroke-width="1.65"/>
<ellipse cx="133.25" cy="938" rx="4.85" ry="5" fill="none" stroke="#0000ff" stroke-width="1.65"/>
<ellipse cx="179.92" cy="920.82" rx="4.85" ry="5" fill="none" stroke="#0000ff" stroke-width="1.65"/>
<ellipse cx="226.6" cy="917.3" rx="4.85" ry="5" fill="none" stroke="#0000ff" stroke-width="1.65"/>
<polyline points="39.9,957.94 86.57,920.82 133.25,890.67 179.92,864.74 226.6,818.11" fill="none" stroke="#ff00ff" stroke-width="1.6" stroke-linejoin="round"/>
<rect x="36.5" y="954.54" width="6.8" height="6.8" fill="none" stroke="#ff00ff" stroke-width="1.65"/>
<rect x="83.17" y="917.42" width="6.8" height="6.8" fill="none" stroke="#ff00ff" stroke-width="1.65"/>
<rect x="129.85" y="887.27" width="6.8" height="6.8" fill="none" stroke="#ff00ff" stroke-width="1.65"/>
<rect x="176.52" y="861.34" width="6.8" height="6.8" fill="none" stroke="#ff00ff" stroke-width="1.65"/>
<rect x="223.2" y="814.71" width="6.8" height="6.8" fill="none" stroke="#ff00ff" stroke-width="1.65"/>
<polyline points="39.9,944.63 86.57,866.81 133.25,849.29 179.92,795.44 226.6,795.44" fill="none" stroke="#00ffff" stroke-width="1.6" stroke-linejoin="round"/>
<path d="M39.9 938.23L41.43 942.52L45.99 942.65L42.37 945.43L43.66 949.81L39.9 947.23L36.14 949.81L37.43 945.43L33.81 942.65L38.37 942.52Z" fill="#00ffff" stroke="#00ffff" stroke-width="1.3" stroke-linejoin="miter"/><path d="M39.9 941.33L40.69 943.54L43.04 943.61L41.18 945.05L41.84 947.3L39.9 945.98L37.96 947.3L38.62 945.05L36.76 943.61L39.11 943.54Z" fill="#000"/>
<path d="M86.57 860.41L88.1 864.71L92.66 864.84L89.05 867.62L90.34 871.99L86.57 869.41L82.81 871.99L84.1 867.62L80.49 864.84L85.05 864.71Z" fill="#00ffff" stroke="#00ffff" stroke-width="1.3" stroke-linejoin="miter"/><path d="M86.57 863.51L87.37 865.72L89.71 865.79L87.86 867.23L88.51 869.48L86.57 868.16L84.64 869.48L85.29 867.23L83.44 865.79L85.78 865.72Z" fill="#000"/>
<path d="M133.25 842.89L134.78 847.19L139.34 847.31L135.72 850.09L137.01 854.47L133.25 851.89L129.49 854.47L130.78 850.09L127.16 847.31L131.72 847.19Z" fill="#00ffff" stroke="#00ffff" stroke-width="1.3" stroke-linejoin="miter"/><path d="M133.25 845.99L134.04 848.2L136.39 848.27L134.53 849.71L135.19 851.96L133.25 850.64L131.31 851.96L131.97 849.71L130.11 848.27L132.46 848.2Z" fill="#000"/>
<path d="M179.92 789.04L181.45 793.33L186.01 793.46L182.4 796.24L183.69 800.61L179.92 798.04L176.16 800.61L177.45 796.24L173.84 793.46L178.4 793.33Z" fill="#00ffff" stroke="#00ffff" stroke-width="1.3" stroke-linejoin="miter"/><path d="M179.92 792.14L180.72 794.34L183.06 794.42L181.21 795.85L181.86 798.1L179.92 796.79L177.99 798.1L178.64 795.85L176.79 794.42L179.13 794.34Z" fill="#000"/>
<path d="M226.6 789.04L228.13 793.33L232.69 793.46L229.07 796.24L230.36 800.61L226.6 798.04L222.84 800.61L224.13 796.24L220.51 793.46L225.07 793.33Z" fill="#00ffff" stroke="#00ffff" stroke-width="1.3" stroke-linejoin="miter"/><path d="M226.6 792.14L227.39 794.34L229.74 794.42L227.88 795.85L228.54 798.1L226.6 796.79L224.66 798.1L225.32 795.85L223.46 794.42L225.81 794.34Z" fill="#000"/>
<rect x="240.5" y="793.5" width="71" height="63.6" fill="#fff" stroke="#a2a2a2" stroke-width="1"/>
<line x1="243.3" y1="800.4" x2="265.7" y2="800.4" stroke="#ff0000" stroke-width="1.6"/>
<path d="M254.6 794.25L259.05 800.4L254.6 806.55L250.15 800.4Z" fill="none" stroke="#ff0000" stroke-width="1.65"/>
<text transform="translate(267.7 804.25) scale(1 1.05)" font-size="9.3">SCO</text>
<line x1="243.3" y1="812.78" x2="265.7" y2="812.78" stroke="#00ff00" stroke-width="1.6"/>
<path d="M254.6 807.18L259.6 816.38L249.6 816.38Z" fill="none" stroke="#00ff00" stroke-width="1.65" stroke-linejoin="miter"/>
<text transform="translate(267.7 816.63) scale(1 1.05)" font-size="9.3">FDA</text>
<line x1="243.3" y1="825.16" x2="265.7" y2="825.16" stroke="#0000ff" stroke-width="1.6"/>
<ellipse cx="254.6" cy="825.16" rx="4.85" ry="5" fill="none" stroke="#0000ff" stroke-width="1.65"/>
<text transform="translate(267.7 829.01) scale(1 1.05)" font-size="9.3">MRFO</text>
<line x1="243.3" y1="837.54" x2="265.7" y2="837.54" stroke="#ff00ff" stroke-width="1.6"/>
<rect x="251.2" y="834.14" width="6.8" height="6.8" fill="none" stroke="#ff00ff" stroke-width="1.65"/>
<text transform="translate(267.7 841.39) scale(1 1.05)" font-size="9.3">CBOA</text>
<line x1="243.3" y1="849.92" x2="265.7" y2="849.92" stroke="#00ffff" stroke-width="1.6"/>
<path d="M254.6 844.42L255.92 848.1L259.83 848.22L256.74 850.62L257.83 854.37L254.6 852.17L251.37 854.37L252.46 850.62L249.37 848.22L253.28 848.1Z" fill="#00ffff" stroke="#00ffff" stroke-width="1.3" stroke-linejoin="miter"/><path d="M254.6 848.32L255.01 849.35L256.12 849.43L255.27 850.14L255.54 851.21L254.6 850.62L253.66 851.21L253.93 850.14L253.08 849.43L254.19 849.35Z" fill="#000"/>
<text transform="translate(267.7 853.77) scale(1 1.05)" font-size="9.3">HMRFCO</text></g>
<g><line x1="427.05" y1="793.5" x2="427.05" y2="991.4" stroke="#efefef" stroke-width="1.5"/>
<line x1="473.7" y1="793.5" x2="473.7" y2="991.4" stroke="#efefef" stroke-width="1.5"/>
<line x1="520.35" y1="793.5" x2="520.35" y2="991.4" stroke="#efefef" stroke-width="1.5"/>
<line x1="380.4" y1="963.13" x2="567" y2="963.13" stroke="#efefef" stroke-width="1.5"/>
<line x1="380.4" y1="934.86" x2="567" y2="934.86" stroke="#efefef" stroke-width="1.5"/>
<line x1="380.4" y1="906.59" x2="567" y2="906.59" stroke="#efefef" stroke-width="1.5"/>
<line x1="380.4" y1="878.31" x2="567" y2="878.31" stroke="#efefef" stroke-width="1.5"/>
<line x1="380.4" y1="850.04" x2="567" y2="850.04" stroke="#efefef" stroke-width="1.5"/>
<line x1="380.4" y1="821.77" x2="567" y2="821.77" stroke="#efefef" stroke-width="1.5"/>
<rect x="380.4" y="793.5" width="186.6" height="197.9" fill="none" stroke="#8e8e8e" stroke-width="1"/>
<line x1="380.4" y1="991.4" x2="380.4" y2="989.4" stroke="#888" stroke-width="0.8"/>
<line x1="380.4" y1="793.5" x2="380.4" y2="795.5" stroke="#888" stroke-width="0.8"/>
<line x1="427.05" y1="991.4" x2="427.05" y2="989.4" stroke="#888" stroke-width="0.8"/>
<line x1="427.05" y1="793.5" x2="427.05" y2="795.5" stroke="#888" stroke-width="0.8"/>
<line x1="473.7" y1="991.4" x2="473.7" y2="989.4" stroke="#888" stroke-width="0.8"/>
<line x1="473.7" y1="793.5" x2="473.7" y2="795.5" stroke="#888" stroke-width="0.8"/>
<line x1="520.35" y1="991.4" x2="520.35" y2="989.4" stroke="#888" stroke-width="0.8"/>
<line x1="520.35" y1="793.5" x2="520.35" y2="795.5" stroke="#888" stroke-width="0.8"/>
<line x1="567" y1="991.4" x2="567" y2="989.4" stroke="#888" stroke-width="0.8"/>
<line x1="567" y1="793.5" x2="567" y2="795.5" stroke="#888" stroke-width="0.8"/>
<line x1="380.4" y1="991.4" x2="382.4" y2="991.4" stroke="#888" stroke-width="0.8"/>
<line x1="567" y1="991.4" x2="565" y2="991.4" stroke="#888" stroke-width="0.8"/>
<line x1="380.4" y1="963.13" x2="382.4" y2="963.13" stroke="#888" stroke-width="0.8"/>
<line x1="567" y1="963.13" x2="565" y2="963.13" stroke="#888" stroke-width="0.8"/>
<line x1="380.4" y1="934.86" x2="382.4" y2="934.86" stroke="#888" stroke-width="0.8"/>
<line x1="567" y1="934.86" x2="565" y2="934.86" stroke="#888" stroke-width="0.8"/>
<line x1="380.4" y1="906.59" x2="382.4" y2="906.59" stroke="#888" stroke-width="0.8"/>
<line x1="567" y1="906.59" x2="565" y2="906.59" stroke="#888" stroke-width="0.8"/>
<line x1="380.4" y1="878.31" x2="382.4" y2="878.31" stroke="#888" stroke-width="0.8"/>
<line x1="567" y1="878.31" x2="565" y2="878.31" stroke="#888" stroke-width="0.8"/>
<line x1="380.4" y1="850.04" x2="382.4" y2="850.04" stroke="#888" stroke-width="0.8"/>
<line x1="567" y1="850.04" x2="565" y2="850.04" stroke="#888" stroke-width="0.8"/>
<line x1="380.4" y1="821.77" x2="382.4" y2="821.77" stroke="#888" stroke-width="0.8"/>
<line x1="567" y1="821.77" x2="565" y2="821.77" stroke="#888" stroke-width="0.8"/>
<line x1="380.4" y1="793.5" x2="382.4" y2="793.5" stroke="#888" stroke-width="0.8"/>
<line x1="567" y1="793.5" x2="565" y2="793.5" stroke="#888" stroke-width="0.8"/>
<text transform="translate(376.8 995.2) scale(1 1)" text-anchor="end" font-size="9.4">4</text>
<text transform="translate(376.8 966.93) scale(1 1)" text-anchor="end" font-size="9.4">5</text>
<text transform="translate(376.8 938.66) scale(1 1)" text-anchor="end" font-size="9.4">6</text>
<text transform="translate(376.8 910.39) scale(1 1)" text-anchor="end" font-size="9.4">7</text>
<text transform="translate(376.8 882.11) scale(1 1)" text-anchor="end" font-size="9.4">8</text>
<text transform="translate(376.8 853.84) scale(1 1)" text-anchor="end" font-size="9.4">9</text>
<text transform="translate(376.8 825.57) scale(1 1)" text-anchor="end" font-size="9.4">10</text>
<text transform="translate(376.8 797.3) scale(1 1)" text-anchor="end" font-size="9.4">11</text>
<text transform="translate(380.4 1004.7) scale(1 1)" text-anchor="middle" font-size="9.4">50</text>
<text transform="translate(427.05 1004.7) scale(1 1)" text-anchor="middle" font-size="9.4">100</text>
<text transform="translate(473.7 1004.7) scale(1 1)" text-anchor="middle" font-size="9.4">150</text>
<text transform="translate(520.35 1004.7) scale(1 1)" text-anchor="middle" font-size="9.4">200</text>
<text transform="translate(567 1004.7) scale(1 1)" text-anchor="middle" font-size="9.4">250</text>
<text transform="translate(473.7 1016.8) scale(1 1.05)" text-anchor="middle" font-size="9.4">Number of Nodes</text>
<text transform="translate(361.9 892.45) scale(1 1) rotate(-90)" text-anchor="middle" font-size="10.9">Sum Rate(bit/(s*Hz))</text>
<polyline points="380.4,987.99 427.05,964.51 473.7,954.05 520.35,889.27 567,839.21" fill="none" stroke="#ff0000" stroke-width="1.6" stroke-linejoin="round"/>
<path d="M380.4 981.84L384.85 987.99L380.4 994.14L375.95 987.99Z" fill="none" stroke="#ff0000" stroke-width="1.65"/>
<path d="M427.05 958.36L431.5 964.51L427.05 970.66L422.6 964.51Z" fill="none" stroke="#ff0000" stroke-width="1.65"/>
<path d="M473.7 947.9L478.15 954.05L473.7 960.2L469.25 954.05Z" fill="none" stroke="#ff0000" stroke-width="1.65"/>
<path d="M520.35 883.12L524.8 889.27L520.35 895.42L515.9 889.27Z" fill="none" stroke="#ff0000" stroke-width="1.65"/>
<path d="M567 833.06L571.45 839.21L567 845.36L562.55 839.21Z" fill="none" stroke="#ff0000" stroke-width="1.65"/>
<polyline points="380.4,907.38 427.05,884.46 473.7,870.04 520.35,859.86 567,833.83" fill="none" stroke="#00ff00" stroke-width="1.6" stroke-linejoin="round"/>
<path d="M380.4 901.78L385.4 910.98L375.4 910.98Z" fill="none" stroke="#00ff00" stroke-width="1.65" stroke-linejoin="miter"/>
<path d="M427.05 878.86L432.05 888.06L422.05 888.06Z" fill="none" stroke="#00ff00" stroke-width="1.65" stroke-linejoin="miter"/>
<path d="M473.7 864.44L478.7 873.64L468.7 873.64Z" fill="none" stroke="#00ff00" stroke-width="1.65" stroke-linejoin="miter"/>
<path d="M520.35 854.26L525.35 863.46L515.35 863.46Z" fill="none" stroke="#00ff00" stroke-width="1.65" stroke-linejoin="miter"/>
<path d="M567 828.23L572 837.43L562 837.43Z" fill="none" stroke="#00ff00" stroke-width="1.65" stroke-linejoin="miter"/>
<polyline points="380.4,986.01 427.05,981.77 473.7,974.98 520.35,945 567,840.9" fill="none" stroke="#0000ff" stroke-width="1.6" stroke-linejoin="round"/>
<ellipse cx="380.4" cy="986.01" rx="4.85" ry="5" fill="none" stroke="#0000ff" stroke-width="1.65"/>
<ellipse cx="427.05" cy="981.77" rx="4.85" ry="5" fill="none" stroke="#0000ff" stroke-width="1.65"/>
<ellipse cx="473.7" cy="974.98" rx="4.85" ry="5" fill="none" stroke="#0000ff" stroke-width="1.65"/>
<ellipse cx="520.35" cy="945" rx="4.85" ry="5" fill="none" stroke="#0000ff" stroke-width="1.65"/>
<ellipse cx="567" cy="840.9" rx="4.85" ry="5" fill="none" stroke="#0000ff" stroke-width="1.65"/>
<polyline points="380.4,980.07 427.05,962.53 473.7,951.78 520.35,913.88 567,857.31" fill="none" stroke="#ff00ff" stroke-width="1.6" stroke-linejoin="round"/>
<rect x="377" y="976.67" width="6.8" height="6.8" fill="none" stroke="#ff00ff" stroke-width="1.65"/>
<rect x="423.65" y="959.13" width="6.8" height="6.8" fill="none" stroke="#ff00ff" stroke-width="1.65"/>
<rect x="470.3" y="948.38" width="6.8" height="6.8" fill="none" stroke="#ff00ff" stroke-width="1.65"/>
<rect x="516.95" y="910.48" width="6.8" height="6.8" fill="none" stroke="#ff00ff" stroke-width="1.65"/>
<rect x="563.6" y="853.91" width="6.8" height="6.8" fill="none" stroke="#ff00ff" stroke-width="1.65"/>
<polyline points="380.4,866.36 427.05,825.06 473.7,822.8 520.35,817.43 567,816.3" fill="none" stroke="#00ffff" stroke-width="1.6" stroke-linejoin="round"/>
<path d="M380.4 859.96L381.93 864.26L386.49 864.38L382.87 867.16L384.16 871.54L380.4 868.96L376.64 871.54L377.93 867.16L374.31 864.38L378.87 864.26Z" fill="#00ffff" stroke="#00ffff" stroke-width="1.3" stroke-linejoin="miter"/><path d="M380.4 863.06L381.19 865.27L383.54 865.34L381.68 866.78L382.34 869.03L380.4 867.71L378.46 869.03L379.12 866.78L377.26 865.34L379.61 865.27Z" fill="#000"/>
<path d="M427.05 818.66L428.58 822.96L433.14 823.09L429.52 825.87L430.81 830.24L427.05 827.66L423.29 830.24L424.58 825.87L420.96 823.09L425.52 822.96Z" fill="#00ffff" stroke="#00ffff" stroke-width="1.3" stroke-linejoin="miter"/><path d="M427.05 821.76L427.84 823.97L430.19 824.04L428.33 825.48L428.99 827.73L427.05 826.41L425.11 827.73L425.77 825.48L423.91 824.04L426.26 823.97Z" fill="#000"/>
<path d="M473.7 816.4L475.23 820.7L479.79 820.82L476.17 823.6L477.46 827.98L473.7 825.4L469.94 827.98L471.23 823.6L467.61 820.82L472.17 820.7Z" fill="#00ffff" stroke="#00ffff" stroke-width="1.3" stroke-linejoin="miter"/><path d="M473.7 819.5L474.49 821.71L476.84 821.78L474.98 823.22L475.64 825.47L473.7 824.15L471.76 825.47L472.42 823.22L470.56 821.78L472.91 821.71Z" fill="#000"/>
<path d="M520.35 811.03L521.88 815.32L526.44 815.45L522.82 818.23L524.11 822.6L520.35 820.03L516.59 822.6L517.88 818.23L514.26 815.45L518.82 815.32Z" fill="#00ffff" stroke="#00ffff" stroke-width="1.3" stroke-linejoin="miter"/><path d="M520.35 814.13L521.14 816.33L523.49 816.41L521.63 817.84L522.29 820.1L520.35 818.78L518.41 820.1L519.07 817.84L517.21 816.41L519.56 816.33Z" fill="#000"/>
<path d="M567 809.9L568.53 814.19L573.09 814.32L569.47 817.1L570.76 821.47L567 818.9L563.24 821.47L564.53 817.1L560.91 814.32L565.47 814.19Z" fill="#00ffff" stroke="#00ffff" stroke-width="1.3" stroke-linejoin="miter"/><path d="M567 813L567.79 815.2L570.14 815.28L568.28 816.71L568.94 818.97L567 817.65L565.06 818.97L565.72 816.71L563.86 815.28L566.21 815.2Z" fill="#000"/>
<rect x="581.4" y="793.5" width="70.2" height="63.6" fill="#fff" stroke="#a2a2a2" stroke-width="1"/>
<line x1="584.2" y1="800.4" x2="606.6" y2="800.4" stroke="#ff0000" stroke-width="1.6"/>
<path d="M595.5 794.25L599.95 800.4L595.5 806.55L591.05 800.4Z" fill="none" stroke="#ff0000" stroke-width="1.65"/>
<text transform="translate(608.6 804.25) scale(1 1.05)" font-size="9.3">SCO</text>
<line x1="584.2" y1="812.78" x2="606.6" y2="812.78" stroke="#00ff00" stroke-width="1.6"/>
<path d="M595.5 807.18L600.5 816.38L590.5 816.38Z" fill="none" stroke="#00ff00" stroke-width="1.65" stroke-linejoin="miter"/>
<text transform="translate(608.6 816.63) scale(1 1.05)" font-size="9.3">FDA</text>
<line x1="584.2" y1="825.16" x2="606.6" y2="825.16" stroke="#0000ff" stroke-width="1.6"/>
<ellipse cx="595.5" cy="825.16" rx="4.85" ry="5" fill="none" stroke="#0000ff" stroke-width="1.65"/>
<text transform="translate(608.6 829.01) scale(1 1.05)" font-size="9.3">MRFO</text>
<line x1="584.2" y1="837.54" x2="606.6" y2="837.54" stroke="#ff00ff" stroke-width="1.6"/>
<rect x="592.1" y="834.14" width="6.8" height="6.8" fill="none" stroke="#ff00ff" stroke-width="1.65"/>
<text transform="translate(608.6 841.39) scale(1 1.05)" font-size="9.3">CBOA</text>
<line x1="584.2" y1="849.92" x2="606.6" y2="849.92" stroke="#00ffff" stroke-width="1.6"/>
<path d="M595.5 844.42L596.82 848.1L600.73 848.22L597.64 850.62L598.73 854.37L595.5 852.17L592.27 854.37L593.36 850.62L590.27 848.22L594.18 848.1Z" fill="#00ffff" stroke="#00ffff" stroke-width="1.3" stroke-linejoin="miter"/><path d="M595.5 848.32L595.91 849.35L597.02 849.43L596.17 850.14L596.44 851.21L595.5 850.62L594.56 851.21L594.83 850.14L593.98 849.43L595.09 849.35Z" fill="#000"/>
<text transform="translate(608.6 853.77) scale(1 1.05)" font-size="9.3">HMRFCO</text></g>
<g><line x1="86.28" y1="1053.5" x2="86.28" y2="1261.4" stroke="#efefef" stroke-width="1.5"/>
<line x1="133.05" y1="1053.5" x2="133.05" y2="1261.4" stroke="#efefef" stroke-width="1.5"/>
<line x1="179.82" y1="1053.5" x2="179.82" y2="1261.4" stroke="#efefef" stroke-width="1.5"/>
<line x1="39.5" y1="1219.82" x2="226.6" y2="1219.82" stroke="#efefef" stroke-width="1.5"/>
<line x1="39.5" y1="1178.24" x2="226.6" y2="1178.24" stroke="#efefef" stroke-width="1.5"/>
<line x1="39.5" y1="1136.66" x2="226.6" y2="1136.66" stroke="#efefef" stroke-width="1.5"/>
<line x1="39.5" y1="1095.08" x2="226.6" y2="1095.08" stroke="#efefef" stroke-width="1.5"/>
<rect x="39.5" y="1053.5" width="187.1" height="207.9" fill="none" stroke="#8e8e8e" stroke-width="1"/>
<line x1="39.5" y1="1261.4" x2="39.5" y2="1259.4" stroke="#888" stroke-width="0.8"/>
<line x1="39.5" y1="1053.5" x2="39.5" y2="1055.5" stroke="#888" stroke-width="0.8"/>
<line x1="86.28" y1="1261.4" x2="86.28" y2="1259.4" stroke="#888" stroke-width="0.8"/>
<line x1="86.28" y1="1053.5" x2="86.28" y2="1055.5" stroke="#888" stroke-width="0.8"/>
<line x1="133.05" y1="1261.4" x2="133.05" y2="1259.4" stroke="#888" stroke-width="0.8"/>
<line x1="133.05" y1="1053.5" x2="133.05" y2="1055.5" stroke="#888" stroke-width="0.8"/>
<line x1="179.82" y1="1261.4" x2="179.82" y2="1259.4" stroke="#888" stroke-width="0.8"/>
<line x1="179.82" y1="1053.5" x2="179.82" y2="1055.5" stroke="#888" stroke-width="0.8"/>
<line x1="226.6" y1="1261.4" x2="226.6" y2="1259.4" stroke="#888" stroke-width="0.8"/>
<line x1="226.6" y1="1053.5" x2="226.6" y2="1055.5" stroke="#888" stroke-width="0.8"/>
<line x1="39.5" y1="1261.4" x2="41.5" y2="1261.4" stroke="#888" stroke-width="0.8"/>
<line x1="226.6" y1="1261.4" x2="224.6" y2="1261.4" stroke="#888" stroke-width="0.8"/>
<line x1="39.5" y1="1219.82" x2="41.5" y2="1219.82" stroke="#888" stroke-width="0.8"/>
<line x1="226.6" y1="1219.82" x2="224.6" y2="1219.82" stroke="#888" stroke-width="0.8"/>
<line x1="39.5" y1="1178.24" x2="41.5" y2="1178.24" stroke="#888" stroke-width="0.8"/>
<line x1="226.6" y1="1178.24" x2="224.6" y2="1178.24" stroke="#888" stroke-width="0.8"/>
<line x1="39.5" y1="1136.66" x2="41.5" y2="1136.66" stroke="#888" stroke-width="0.8"/>
<line x1="226.6" y1="1136.66" x2="224.6" y2="1136.66" stroke="#888" stroke-width="0.8"/>
<line x1="39.5" y1="1095.08" x2="41.5" y2="1095.08" stroke="#888" stroke-width="0.8"/>
<line x1="226.6" y1="1095.08" x2="224.6" y2="1095.08" stroke="#888" stroke-width="0.8"/>
<line x1="39.5" y1="1053.5" x2="41.5" y2="1053.5" stroke="#888" stroke-width="0.8"/>
<line x1="226.6" y1="1053.5" x2="224.6" y2="1053.5" stroke="#888" stroke-width="0.8"/>
<text transform="translate(35.9 1265.39) scale(1 1.05)" text-anchor="end" font-size="9.4">60</text>
<text transform="translate(35.9 1223.81) scale(1 1.05)" text-anchor="end" font-size="9.4">65</text>
<text transform="translate(35.9 1182.23) scale(1 1.05)" text-anchor="end" font-size="9.4">70</text>
<text transform="translate(35.9 1140.65) scale(1 1.05)" text-anchor="end" font-size="9.4">75</text>
<text transform="translate(35.9 1099.07) scale(1 1.05)" text-anchor="end" font-size="9.4">80</text>
<text transform="translate(35.9 1057.49) scale(1 1.05)" text-anchor="end" font-size="9.4">85</text>
<text transform="translate(39.5 1275.4) scale(1 1.05)" text-anchor="middle" font-size="9.4">50</text>
<text transform="translate(86.28 1275.4) scale(1 1.05)" text-anchor="middle" font-size="9.4">100</text>
<text transform="translate(133.05 1275.4) scale(1 1.05)" text-anchor="middle" font-size="9.4">150</text>
<text transform="translate(179.82 1275.4) scale(1 1.05)" text-anchor="middle" font-size="9.4">200</text>
<text transform="translate(226.6 1275.4) scale(1 1.05)" text-anchor="middle" font-size="9.4">250</text>
<text transform="translate(133.05 1288.8) scale(1 1.1)" text-anchor="middle" font-size="9.4">Number of Nodes</text>
<text transform="translate(21.2 1157.45) scale(1 1.05) rotate(-90)" text-anchor="middle" font-size="10.9">Throughput(%)</text>
<polyline points="39.5,1199.95 86.28,1173.45 133.05,1167.1 179.82,1111.08 226.6,1064.18" fill="none" stroke="#ff0000" stroke-width="1.6" stroke-linejoin="round"/>
<path d="M39.5 1193.49L43.95 1199.95L39.5 1206.41L35.05 1199.95Z" fill="none" stroke="#ff0000" stroke-width="1.65"/>
<path d="M86.28 1166.99L90.73 1173.45L86.28 1179.91L81.83 1173.45Z" fill="none" stroke="#ff0000" stroke-width="1.65"/>
<path d="M133.05 1160.64L137.5 1167.1L133.05 1173.55L128.6 1167.1Z" fill="none" stroke="#ff0000" stroke-width="1.65"/>
<path d="M179.82 1104.63L184.27 1111.08L179.82 1117.54L175.38 1111.08Z" fill="none" stroke="#ff0000" stroke-width="1.65"/>
<path d="M226.6 1057.73L231.05 1064.18L226.6 1070.64L222.15 1064.18Z" fill="none" stroke="#ff0000" stroke-width="1.65"/>
<polyline points="39.5,1259.89 86.28,1208.31 133.05,1203.46 179.82,1093.53 226.6,1097.79" fill="none" stroke="#00ff00" stroke-width="1.6" stroke-linejoin="round"/>
<path d="M39.5 1254.01L44.5 1263.67L34.5 1263.67Z" fill="none" stroke="#00ff00" stroke-width="1.65" stroke-linejoin="miter"/>
<path d="M86.28 1202.43L91.28 1212.09L81.28 1212.09Z" fill="none" stroke="#00ff00" stroke-width="1.65" stroke-linejoin="miter"/>
<path d="M133.05 1197.58L138.05 1207.24L128.05 1207.24Z" fill="none" stroke="#00ff00" stroke-width="1.65" stroke-linejoin="miter"/>
<path d="M179.82 1087.65L184.82 1097.31L174.82 1097.31Z" fill="none" stroke="#00ff00" stroke-width="1.65" stroke-linejoin="miter"/>
<path d="M226.6 1091.91L231.6 1101.57L221.6 1101.57Z" fill="none" stroke="#00ff00" stroke-width="1.65" stroke-linejoin="miter"/>
<polyline points="39.5,1254.62 86.28,1224.19 133.05,1191.59 179.82,1120.2 226.6,1118.44" fill="none" stroke="#0000ff" stroke-width="1.6" stroke-linejoin="round"/>
<ellipse cx="39.5" cy="1254.62" rx="4.85" ry="5.25" fill="none" stroke="#0000ff" stroke-width="1.65"/>
<ellipse cx="86.28" cy="1224.19" rx="4.85" ry="5.25" fill="none" stroke="#0000ff" stroke-width="1.65"/>
<ellipse cx="133.05" cy="1191.59" rx="4.85" ry="5.25" fill="none" stroke="#0000ff" stroke-width="1.65"/>
<ellipse cx="179.82" cy="1120.2" rx="4.85" ry="5.25" fill="none" stroke="#0000ff" stroke-width="1.65"/>
<ellipse cx="226.6" cy="1118.44" rx="4.85" ry="5.25" fill="none" stroke="#0000ff" stroke-width="1.65"/>
<polyline points="39.5,1227.29 86.28,1211.15 133.05,1184.23 179.82,1149.2 226.6,1139.42" fill="none" stroke="#ff00ff" stroke-width="1.6" stroke-linejoin="round"/>
<rect x="36.1" y="1223.72" width="6.8" height="7.14" fill="none" stroke="#ff00ff" stroke-width="1.65"/>
<rect x="82.88" y="1207.58" width="6.8" height="7.14" fill="none" stroke="#ff00ff" stroke-width="1.65"/>
<rect x="129.65" y="1180.66" width="6.8" height="7.14" fill="none" stroke="#ff00ff" stroke-width="1.65"/>
<rect x="176.42" y="1145.63" width="6.8" height="7.14" fill="none" stroke="#ff00ff" stroke-width="1.65"/>
<rect x="223.2" y="1135.85" width="6.8" height="7.14" fill="none" stroke="#ff00ff" stroke-width="1.65"/>
<polyline points="39.5,1184.57 86.28,1146.03 133.05,1140.84 179.82,1071.54 226.6,1059.25" fill="none" stroke="#00ffff" stroke-width="1.6" stroke-linejoin="round"/>
<path d="M39.5 1177.85L41.03 1182.36L45.59 1182.49L41.97 1185.41L43.26 1190L39.5 1187.3L35.74 1190L37.03 1185.41L33.41 1182.49L37.97 1182.36Z" fill="#00ffff" stroke="#00ffff" stroke-width="1.3" stroke-linejoin="miter"/><path d="M39.5 1181.1L40.29 1183.42L42.64 1183.5L40.78 1185.01L41.44 1187.37L39.5 1185.99L37.56 1187.37L38.22 1185.01L36.36 1183.5L38.71 1183.42Z" fill="#000"/>
<path d="M86.28 1139.31L87.8 1143.82L92.36 1143.95L88.75 1146.87L90.04 1151.46L86.28 1148.76L82.51 1151.46L83.8 1146.87L80.19 1143.95L84.75 1143.82Z" fill="#00ffff" stroke="#00ffff" stroke-width="1.3" stroke-linejoin="miter"/><path d="M86.28 1142.56L87.07 1144.88L89.41 1144.96L87.56 1146.47L88.21 1148.83L86.28 1147.45L84.34 1148.83L84.99 1146.47L83.14 1144.96L85.48 1144.88Z" fill="#000"/>
<path d="M133.05 1134.12L134.58 1138.64L139.14 1138.77L135.52 1141.69L136.81 1146.28L133.05 1143.57L129.29 1146.28L130.58 1141.69L126.96 1138.77L131.52 1138.64Z" fill="#00ffff" stroke="#00ffff" stroke-width="1.3" stroke-linejoin="miter"/><path d="M133.05 1137.38L133.84 1139.7L136.19 1139.77L134.33 1141.28L134.99 1143.65L133.05 1142.26L131.11 1143.65L131.77 1141.28L129.91 1139.77L132.26 1139.7Z" fill="#000"/>
<path d="M179.82 1064.82L181.35 1069.33L185.91 1069.46L182.3 1072.38L183.59 1076.98L179.82 1074.27L176.06 1076.98L177.35 1072.38L173.74 1069.46L178.3 1069.33Z" fill="#00ffff" stroke="#00ffff" stroke-width="1.3" stroke-linejoin="miter"/><path d="M179.82 1068.08L180.62 1070.39L182.96 1070.47L181.11 1071.98L181.76 1074.34L179.82 1072.96L177.89 1074.34L178.54 1071.98L176.69 1070.47L179.03 1070.39Z" fill="#000"/>
<path d="M226.6 1052.53L228.13 1057.04L232.69 1057.17L229.07 1060.09L230.36 1064.69L226.6 1061.98L222.84 1064.69L224.13 1060.09L220.51 1057.17L225.07 1057.04Z" fill="#00ffff" stroke="#00ffff" stroke-width="1.3" stroke-linejoin="miter"/><path d="M226.6 1055.79L227.39 1058.1L229.74 1058.18L227.88 1059.69L228.54 1062.05L226.6 1060.67L224.66 1062.05L225.32 1059.69L223.46 1058.18L225.81 1058.1Z" fill="#000"/>
<rect x="241.4" y="1053.5" width="70.2" height="67" fill="#fff" stroke="#a2a2a2" stroke-width="1"/>
<line x1="244.2" y1="1060.77" x2="266.6" y2="1060.77" stroke="#ff0000" stroke-width="1.6"/>
<path d="M255.5 1054.31L259.95 1060.77L255.5 1067.23L251.05 1060.77Z" fill="none" stroke="#ff0000" stroke-width="1.65"/>
<text transform="translate(268.6 1064.81) scale(1 1.1)" font-size="9.3">SCO</text>
<line x1="244.2" y1="1073.81" x2="266.6" y2="1073.81" stroke="#00ff00" stroke-width="1.6"/>
<path d="M255.5 1067.93L260.5 1077.59L250.5 1077.59Z" fill="none" stroke="#00ff00" stroke-width="1.65" stroke-linejoin="miter"/>
<text transform="translate(268.6 1077.85) scale(1 1.1)" font-size="9.3">FDA</text>
<line x1="244.2" y1="1086.85" x2="266.6" y2="1086.85" stroke="#0000ff" stroke-width="1.6"/>
<ellipse cx="255.5" cy="1086.85" rx="4.85" ry="5.25" fill="none" stroke="#0000ff" stroke-width="1.65"/>
<text transform="translate(268.6 1090.9) scale(1 1.1)" font-size="9.3">MRFO</text>
<line x1="244.2" y1="1099.89" x2="266.6" y2="1099.89" stroke="#ff00ff" stroke-width="1.6"/>
<rect x="252.1" y="1096.32" width="6.8" height="7.14" fill="none" stroke="#ff00ff" stroke-width="1.65"/>
<text transform="translate(268.6 1103.94) scale(1 1.1)" font-size="9.3">CBOA</text>
<line x1="244.2" y1="1112.94" x2="266.6" y2="1112.94" stroke="#00ffff" stroke-width="1.6"/>
<path d="M255.5 1107.16L256.82 1111.02L260.73 1111.15L257.64 1113.67L258.73 1117.61L255.5 1115.3L252.27 1117.61L253.36 1113.67L250.27 1111.15L254.18 1111.02Z" fill="#00ffff" stroke="#00ffff" stroke-width="1.3" stroke-linejoin="miter"/><path d="M255.5 1111.26L255.91 1112.34L257.02 1112.42L256.17 1113.16L256.44 1114.3L255.5 1113.67L254.56 1114.3L254.83 1113.16L253.98 1112.42L255.09 1112.34Z" fill="#000"/>
<text transform="translate(268.6 1116.98) scale(1 1.1)" font-size="9.3">HMRFCO</text></g>
<g><line x1="432.7" y1="1053.4" x2="432.7" y2="1261.4" stroke="#efefef" stroke-width="1.5"/>
<line x1="478" y1="1053.4" x2="478" y2="1261.4" stroke="#efefef" stroke-width="1.5"/>
<line x1="523.3" y1="1053.4" x2="523.3" y2="1261.4" stroke="#efefef" stroke-width="1.5"/>
<line x1="387.4" y1="1235.4" x2="568.6" y2="1235.4" stroke="#efefef" stroke-width="1.5"/>
<line x1="387.4" y1="1209.4" x2="568.6" y2="1209.4" stroke="#efefef" stroke-width="1.5"/>
<line x1="387.4" y1="1183.4" x2="568.6" y2="1183.4" stroke="#efefef" stroke-width="1.5"/>
<line x1="387.4" y1="1157.4" x2="568.6" y2="1157.4" stroke="#efefef" stroke-width="1.5"/>
<line x1="387.4" y1="1131.4" x2="568.6" y2="1131.4" stroke="#efefef" stroke-width="1.5"/>
<line x1="387.4" y1="1105.4" x2="568.6" y2="1105.4" stroke="#efefef" stroke-width="1.5"/>
<line x1="387.4" y1="1079.4" x2="568.6" y2="1079.4" stroke="#efefef" stroke-width="1.5"/>
<rect x="387.4" y="1053.4" width="181.2" height="208" fill="none" stroke="#8e8e8e" stroke-width="1"/>
<line x1="387.4" y1="1261.4" x2="387.4" y2="1259.4" stroke="#888" stroke-width="0.8"/>
<line x1="387.4" y1="1053.4" x2="387.4" y2="1055.4" stroke="#888" stroke-width="0.8"/>
<line x1="432.7" y1="1261.4" x2="432.7" y2="1259.4" stroke="#888" stroke-width="0.8"/>
<line x1="432.7" y1="1053.4" x2="432.7" y2="1055.4" stroke="#888" stroke-width="0.8"/>
<line x1="478" y1="1261.4" x2="478" y2="1259.4" stroke="#888" stroke-width="0.8"/>
<line x1="478" y1="1053.4" x2="478" y2="1055.4" stroke="#888" stroke-width="0.8"/>
<line x1="523.3" y1="1261.4" x2="523.3" y2="1259.4" stroke="#888" stroke-width="0.8"/>
<line x1="523.3" y1="1053.4" x2="523.3" y2="1055.4" stroke="#888" stroke-width="0.8"/>
<line x1="568.6" y1="1261.4" x2="568.6" y2="1259.4" stroke="#888" stroke-width="0.8"/>
<line x1="568.6" y1="1053.4" x2="568.6" y2="1055.4" stroke="#888" stroke-width="0.8"/>
<line x1="387.4" y1="1261.4" x2="389.4" y2="1261.4" stroke="#888" stroke-width="0.8"/>
<line x1="568.6" y1="1261.4" x2="566.6" y2="1261.4" stroke="#888" stroke-width="0.8"/>
<line x1="387.4" y1="1235.4" x2="389.4" y2="1235.4" stroke="#888" stroke-width="0.8"/>
<line x1="568.6" y1="1235.4" x2="566.6" y2="1235.4" stroke="#888" stroke-width="0.8"/>
<line x1="387.4" y1="1209.4" x2="389.4" y2="1209.4" stroke="#888" stroke-width="0.8"/>
<line x1="568.6" y1="1209.4" x2="566.6" y2="1209.4" stroke="#888" stroke-width="0.8"/>
<line x1="387.4" y1="1183.4" x2="389.4" y2="1183.4" stroke="#888" stroke-width="0.8"/>
<line x1="568.6" y1="1183.4" x2="566.6" y2="1183.4" stroke="#888" stroke-width="0.8"/>
<line x1="387.4" y1="1157.4" x2="389.4" y2="1157.4" stroke="#888" stroke-width="0.8"/>
<line x1="568.6" y1="1157.4" x2="566.6" y2="1157.4" stroke="#888" stroke-width="0.8"/>
<line x1="387.4" y1="1131.4" x2="389.4" y2="1131.4" stroke="#888" stroke-width="0.8"/>
<line x1="568.6" y1="1131.4" x2="566.6" y2="1131.4" stroke="#888" stroke-width="0.8"/>
<line x1="387.4" y1="1105.4" x2="389.4" y2="1105.4" stroke="#888" stroke-width="0.8"/>
<line x1="568.6" y1="1105.4" x2="566.6" y2="1105.4" stroke="#888" stroke-width="0.8"/>
<line x1="387.4" y1="1079.4" x2="389.4" y2="1079.4" stroke="#888" stroke-width="0.8"/>
<line x1="568.6" y1="1079.4" x2="566.6" y2="1079.4" stroke="#888" stroke-width="0.8"/>
<line x1="387.4" y1="1053.4" x2="389.4" y2="1053.4" stroke="#888" stroke-width="0.8"/>
<line x1="568.6" y1="1053.4" x2="566.6" y2="1053.4" stroke="#888" stroke-width="0.8"/>
<text transform="translate(383.8 1265.39) scale(1 1.05)" text-anchor="end" font-size="9.4">0.01</text>
<text transform="translate(383.8 1239.39) scale(1 1.05)" text-anchor="end" font-size="9.4">0.02</text>
<text transform="translate(383.8 1213.39) scale(1 1.05)" text-anchor="end" font-size="9.4">0.03</text>
<text transform="translate(383.8 1187.39) scale(1 1.05)" text-anchor="end" font-size="9.4">0.04</text>
<text transform="translate(383.8 1161.39) scale(1 1.05)" text-anchor="end" font-size="9.4">0.05</text>
<text transform="translate(383.8 1135.39) scale(1 1.05)" text-anchor="end" font-size="9.4">0.06</text>
<text transform="translate(383.8 1109.39) scale(1 1.05)" text-anchor="end" font-size="9.4">0.07</text>
<text transform="translate(383.8 1083.39) scale(1 1.05)" text-anchor="end" font-size="9.4">0.08</text>
<text transform="translate(383.8 1057.39) scale(1 1.05)" text-anchor="end" font-size="9.4">0.09</text>
<text transform="translate(387.4 1275.4) scale(1 1.05)" text-anchor="middle" font-size="9.4">50</text>
<text transform="translate(432.7 1275.4) scale(1 1.05)" text-anchor="middle" font-size="9.4">100</text>
<text transform="translate(478 1275.4) scale(1 1.05)" text-anchor="middle" font-size="9.4">150</text>
<text transform="translate(523.3 1275.4) scale(1 1.05)" text-anchor="middle" font-size="9.4">200</text>
<text transform="translate(568.6 1275.4) scale(1 1.05)" text-anchor="middle" font-size="9.4">250</text>
<text transform="translate(478 1288.8) scale(1 1.1)" text-anchor="middle" font-size="9.4">Number of Nodes</text>
<text transform="translate(360.9 1157.4) scale(1 1.05) rotate(-90)" text-anchor="middle" font-size="10.9">Average Transmission Power(Watt)</text>
<polyline points="387.4,1257.69 432.7,1204.13 478,1150.31 523.3,1096.49 568.6,1091.01" fill="none" stroke="#ff0000" stroke-width="1.6" stroke-linejoin="round"/>
<path d="M387.4 1251.23L391.85 1257.69L387.4 1264.14L382.95 1257.69Z" fill="none" stroke="#ff0000" stroke-width="1.65"/>
<path d="M432.7 1197.67L437.15 1204.13L432.7 1210.59L428.25 1204.13Z" fill="none" stroke="#ff0000" stroke-width="1.65"/>
<path d="M478 1143.85L482.45 1150.31L478 1156.77L473.55 1150.31Z" fill="none" stroke="#ff0000" stroke-width="1.65"/>
<path d="M523.3 1090.04L527.75 1096.49L523.3 1102.95L518.85 1096.49Z" fill="none" stroke="#ff0000" stroke-width="1.65"/>
<path d="M568.6 1084.55L573.05 1091.01L568.6 1097.47L564.15 1091.01Z" fill="none" stroke="#ff0000" stroke-width="1.65"/>
<polyline points="387.4,1205.17 432.7,1145.35 478,1105.12 523.3,1088.4 568.6,1086.57" fill="none" stroke="#00ff00" stroke-width="1.6" stroke-linejoin="round"/>
<path d="M387.4 1199.29L392.4 1208.95L382.4 1208.95Z" fill="none" stroke="#00ff00" stroke-width="1.65" stroke-linejoin="miter"/>
<path d="M432.7 1139.47L437.7 1149.13L427.7 1149.13Z" fill="none" stroke="#00ff00" stroke-width="1.65" stroke-linejoin="miter"/>
<path d="M478 1099.24L483 1108.9L473 1108.9Z" fill="none" stroke="#00ff00" stroke-width="1.65" stroke-linejoin="miter"/>
<path d="M523.3 1082.52L528.3 1092.18L518.3 1092.18Z" fill="none" stroke="#00ff00" stroke-width="1.65" stroke-linejoin="miter"/>
<path d="M568.6 1080.69L573.6 1090.35L563.6 1090.35Z" fill="none" stroke="#00ff00" stroke-width="1.65" stroke-linejoin="miter"/>
<polyline points="387.4,1256.38 432.7,1155.01 478,1150.31 523.3,1119.75 568.6,1077.95" fill="none" stroke="#0000ff" stroke-width="1.6" stroke-linejoin="round"/>
<ellipse cx="387.4" cy="1256.38" rx="4.85" ry="5.25" fill="none" stroke="#0000ff" stroke-width="1.65"/>
<ellipse cx="432.7" cy="1155.01" rx="4.85" ry="5.25" fill="none" stroke="#0000ff" stroke-width="1.65"/>
<ellipse cx="478" cy="1150.31" rx="4.85" ry="5.25" fill="none" stroke="#0000ff" stroke-width="1.65"/>
<ellipse cx="523.3" cy="1119.75" rx="4.85" ry="5.25" fill="none" stroke="#0000ff" stroke-width="1.65"/>
<ellipse cx="568.6" cy="1077.95" rx="4.85" ry="5.25" fill="none" stroke="#0000ff" stroke-width="1.65"/>
<polyline points="387.4,1191.07 432.7,1175.13 478,1160.24 523.3,1135.68 568.6,1078.99" fill="none" stroke="#ff00ff" stroke-width="1.6" stroke-linejoin="round"/>
<rect x="384" y="1187.5" width="6.8" height="7.14" fill="none" stroke="#ff00ff" stroke-width="1.65"/>
<rect x="429.3" y="1171.56" width="6.8" height="7.14" fill="none" stroke="#ff00ff" stroke-width="1.65"/>
<rect x="474.6" y="1156.67" width="6.8" height="7.14" fill="none" stroke="#ff00ff" stroke-width="1.65"/>
<rect x="519.9" y="1132.11" width="6.8" height="7.14" fill="none" stroke="#ff00ff" stroke-width="1.65"/>
<rect x="565.2" y="1075.42" width="6.8" height="7.14" fill="none" stroke="#ff00ff" stroke-width="1.65"/>
<polyline points="387.4,1188.72 432.7,1144.56 478,1099.37 523.3,1078.21 568.6,1070.63" fill="none" stroke="#00ffff" stroke-width="1.6" stroke-linejoin="round"/>
<path d="M387.4 1182L388.93 1186.51L393.49 1186.64L389.87 1189.56L391.16 1194.15L387.4 1191.45L383.64 1194.15L384.93 1189.56L381.31 1186.64L385.87 1186.51Z" fill="#00ffff" stroke="#00ffff" stroke-width="1.3" stroke-linejoin="miter"/><path d="M387.4 1185.25L388.19 1187.57L390.54 1187.65L388.68 1189.15L389.34 1191.52L387.4 1190.13L385.46 1191.52L386.12 1189.15L384.26 1187.65L386.61 1187.57Z" fill="#000"/>
<path d="M432.7 1137.84L434.23 1142.36L438.79 1142.49L435.17 1145.41L436.46 1150L432.7 1147.29L428.94 1150L430.23 1145.41L426.61 1142.49L431.17 1142.36Z" fill="#00ffff" stroke="#00ffff" stroke-width="1.3" stroke-linejoin="miter"/><path d="M432.7 1141.1L433.49 1143.42L435.84 1143.49L433.98 1145L434.64 1147.37L432.7 1145.98L430.76 1147.37L431.42 1145L429.56 1143.49L431.91 1143.42Z" fill="#000"/>
<path d="M478 1092.65L479.53 1097.16L484.09 1097.29L480.47 1100.21L481.76 1104.81L478 1102.1L474.24 1104.81L475.53 1100.21L471.91 1097.29L476.47 1097.16Z" fill="#00ffff" stroke="#00ffff" stroke-width="1.3" stroke-linejoin="miter"/><path d="M478 1095.9L478.79 1098.22L481.14 1098.3L479.28 1099.81L479.94 1102.17L478 1100.79L476.06 1102.17L476.72 1099.81L474.86 1098.3L477.21 1098.22Z" fill="#000"/>
<path d="M523.3 1071.49L524.83 1076L529.39 1076.13L525.77 1079.05L527.06 1083.64L523.3 1080.94L519.54 1083.64L520.83 1079.05L517.21 1076.13L521.77 1076Z" fill="#00ffff" stroke="#00ffff" stroke-width="1.3" stroke-linejoin="miter"/><path d="M523.3 1074.74L524.09 1077.06L526.44 1077.14L524.58 1078.65L525.24 1081.01L523.3 1079.62L521.36 1081.01L522.02 1078.65L520.16 1077.14L522.51 1077.06Z" fill="#000"/>
<path d="M568.6 1063.91L570.13 1068.42L574.69 1068.55L571.07 1071.47L572.36 1076.07L568.6 1073.36L564.84 1076.07L566.13 1071.47L562.51 1068.55L567.07 1068.42Z" fill="#00ffff" stroke="#00ffff" stroke-width="1.3" stroke-linejoin="miter"/><path d="M568.6 1067.17L569.39 1069.48L571.74 1069.56L569.88 1071.07L570.54 1073.43L568.6 1072.05L566.66 1073.43L567.32 1071.07L565.46 1069.56L567.81 1069.48Z" fill="#000"/>
<rect x="582.8" y="1053.4" width="71.2" height="67" fill="#fff" stroke="#a2a2a2" stroke-width="1"/>
<line x1="585.6" y1="1060.67" x2="608" y2="1060.67" stroke="#ff0000" stroke-width="1.6"/>
<path d="M596.9 1054.21L601.35 1060.67L596.9 1067.13L592.45 1060.67Z" fill="none" stroke="#ff0000" stroke-width="1.65"/>
<text transform="translate(610 1064.71) scale(1 1.1)" font-size="9.3">SCO</text>
<line x1="585.6" y1="1073.71" x2="608" y2="1073.71" stroke="#00ff00" stroke-width="1.6"/>
<path d="M596.9 1067.83L601.9 1077.49L591.9 1077.49Z" fill="none" stroke="#00ff00" stroke-width="1.65" stroke-linejoin="miter"/>
<text transform="translate(610 1077.75) scale(1 1.1)" font-size="9.3">FDA</text>
<line x1="585.6" y1="1086.75" x2="608" y2="1086.75" stroke="#0000ff" stroke-width="1.6"/>
<ellipse cx="596.9" cy="1086.75" rx="4.85" ry="5.25" fill="none" stroke="#0000ff" stroke-width="1.65"/>
<text transform="translate(610 1090.8) scale(1 1.1)" font-size="9.3">MRFO</text>
<line x1="585.6" y1="1099.79" x2="608" y2="1099.79" stroke="#ff00ff" stroke-width="1.6"/>
<rect x="593.5" y="1096.22" width="6.8" height="7.14" fill="none" stroke="#ff00ff" stroke-width="1.65"/>
<text transform="translate(610 1103.84) scale(1 1.1)" font-size="9.3">CBOA</text>
<line x1="585.6" y1="1112.84" x2="608" y2="1112.84" stroke="#00ffff" stroke-width="1.6"/>
<path d="M596.9 1107.06L598.22 1110.92L602.13 1111.05L599.04 1113.57L600.13 1117.51L596.9 1115.2L593.67 1117.51L594.76 1113.57L591.67 1111.05L595.58 1110.92Z" fill="#00ffff" stroke="#00ffff" stroke-width="1.3" stroke-linejoin="miter"/><path d="M596.9 1111.16L597.31 1112.24L598.42 1112.32L597.57 1113.06L597.84 1114.2L596.9 1113.57L595.96 1114.2L596.23 1113.06L595.38 1112.32L596.49 1112.24Z" fill="#000"/>
<text transform="translate(610 1116.88) scale(1 1.1)" font-size="9.3">HMRFCO</text></g>
<text transform="translate(171 255.4) scale(0.94 1)" text-anchor="middle" font-size="11.5" style="fill:#ff0000;stroke:none;font-family:'Liberation Serif', serif">(a)</text>
<text transform="translate(512 255.4) scale(0.94 1)" text-anchor="middle" font-size="11.5" style="fill:#ff0000;stroke:none;font-family:'Liberation Serif', serif">(b)</text>
<text transform="translate(171 513.4) scale(0.94 1)" text-anchor="middle" font-size="11.5" style="fill:#ff0000;stroke:none;font-family:'Liberation Serif', serif">(c)</text>
<text transform="translate(512 513.4) scale(0.94 1)" text-anchor="middle" font-size="11.5" style="fill:#ff0000;stroke:none;font-family:'Liberation Serif', serif">(d)</text>
<text transform="translate(171 772.4) scale(0.94 1)" text-anchor="middle" font-size="11.5" style="fill:#ff0000;stroke:none;font-family:'Liberation Serif', serif">(e)</text>
<text transform="translate(512 772.4) scale(0.94 1)" text-anchor="middle" font-size="11.5" style="fill:#ff0000;stroke:none;font-family:'Liberation Serif', serif">(f)</text>
<text transform="translate(171 1030.4) scale(0.94 1)" text-anchor="middle" font-size="11.5" style="fill:#ff0000;stroke:none;font-family:'Liberation Serif', serif">(g)</text>
<text transform="translate(512 1030.4) scale(0.94 1)" text-anchor="middle" font-size="11.5" style="fill:#ff0000;stroke:none;font-family:'Liberation Serif', serif">(h)</text>
<text transform="translate(171 1301.6) scale(0.94 1)" text-anchor="middle" font-size="11.5" style="fill:#ff0000;stroke:none;font-family:'Liberation Serif', serif">(i)</text>
<text transform="translate(513 1301.6) scale(0.94 1)" text-anchor="middle" font-size="11.5" style="fill:#ff0000;stroke:none;font-family:'Liberation Serif', serif">(j)</text>
</svg>
</body></html>
